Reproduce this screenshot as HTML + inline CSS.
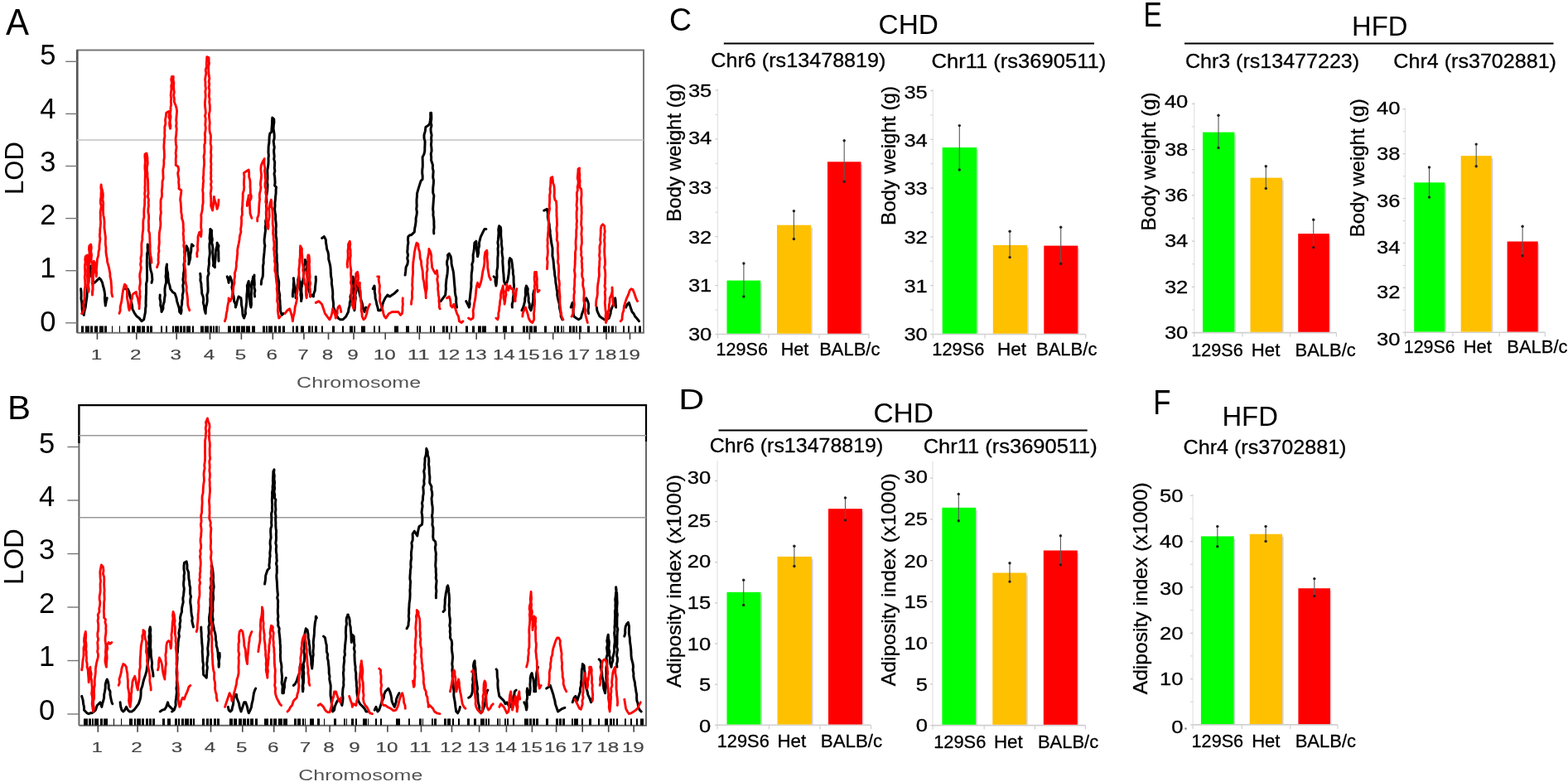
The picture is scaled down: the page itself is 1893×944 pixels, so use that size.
<!DOCTYPE html>
<html><head><meta charset="utf-8"><style>
html,body{margin:0;padding:0;background:#fff;}
svg{display:block;}
text{font-family:'Liberation Sans', Arial, sans-serif;}
text.b{stroke:#000;stroke-width:0.3px;}
</style></head><body>
<svg width="1893" height="944" viewBox="0 0 1893 944">
<rect width="1893" height="944" fill="#fff"/>

<text x="6.9" y="41.6" font-size="44" textLength="28.0" lengthAdjust="spacingAndGlyphs" fill="#000">A</text>
<text x="8.9" y="505.8" font-size="40.5" textLength="28.0" lengthAdjust="spacingAndGlyphs" fill="#000">B</text>
<text x="808.0" y="37.0" font-size="39.5" textLength="27.0" lengthAdjust="spacingAndGlyphs" fill="#000">C</text>
<text x="819.2" y="493.7" font-size="34.5" textLength="31.0" lengthAdjust="spacingAndGlyphs" fill="#000">D</text>
<text x="1380.4" y="31.8" font-size="43" textLength="22.3" lengthAdjust="spacingAndGlyphs" fill="#000">E</text>
<text x="1392.3" y="499.8" font-size="42" textLength="21.2" lengthAdjust="spacingAndGlyphs" fill="#000">F</text>
<text x="1060.6" y="41.2" font-size="33" textLength="72.4" lengthAdjust="spacingAndGlyphs" fill="#000">CHD</text>
<text x="1632.0" y="43.2" font-size="33" textLength="67.3" lengthAdjust="spacingAndGlyphs" fill="#000">HFD</text>
<text x="1054.4" y="510.4" font-size="33" textLength="72.6" lengthAdjust="spacingAndGlyphs" fill="#000">CHD</text>
<text x="1475.4" y="514.4" font-size="33" textLength="67.5" lengthAdjust="spacingAndGlyphs" fill="#000">HFD</text>
<line x1="873.8" y1="52.6" x2="1321.0" y2="52.6" stroke="#000" stroke-width="2"/>
<line x1="1430.0" y1="52.6" x2="1875.5" y2="52.6" stroke="#000" stroke-width="2"/>
<line x1="867.5" y1="519.6" x2="1312.7" y2="519.6" stroke="#000" stroke-width="2"/>
<text x="858.3" y="81.4" font-size="24.5" textLength="211.2" lengthAdjust="spacingAndGlyphs" fill="#000" class="b">Chr6 (rs13478819)</text>
<text x="1124.5" y="81.9" font-size="24.5" textLength="210.7" lengthAdjust="spacingAndGlyphs" fill="#000" class="b">Chr11 (rs3690511)</text>
<text x="1430.9" y="81.8" font-size="24.5" textLength="210.2" lengthAdjust="spacingAndGlyphs" fill="#000" class="b">Chr3 (rs13477223)</text>
<text x="1682.3" y="81.8" font-size="24.5" textLength="196.7" lengthAdjust="spacingAndGlyphs" fill="#000" class="b">Chr4 (rs3702881)</text>
<text x="856.7" y="545.8" font-size="24.5" textLength="209.6" lengthAdjust="spacingAndGlyphs" fill="#000" class="b">Chr6 (rs13478819)</text>
<text x="1114.7" y="546.6" font-size="24.5" textLength="210.1" lengthAdjust="spacingAndGlyphs" fill="#000" class="b">Chr11 (rs3690511)</text>
<text x="1428.5" y="547.5" font-size="24.5" textLength="197.0" lengthAdjust="spacingAndGlyphs" fill="#000" class="b">Chr4 (rs3702881)</text>
<line x1="866.5" y1="107.0" x2="866.5" y2="403.5" stroke="#e3e3e3" stroke-width="1.2"/>
<line x1="866.5" y1="403.5" x2="1049.0" y2="403.5" stroke="#d0d0d0" stroke-width="1.6"/>
<line x1="863.5" y1="403.5" x2="866.5" y2="403.5" stroke="#c8c8c8" stroke-width="1.2"/>
<text x="859.3" y="411.0" font-size="22.5" text-anchor="end" textLength="28.4" lengthAdjust="spacingAndGlyphs" fill="#000" class="b">30</text>
<line x1="863.5" y1="374.1" x2="866.5" y2="374.1" stroke="#d8d8d8" stroke-width="1.2"/>
<line x1="863.5" y1="344.6" x2="866.5" y2="344.6" stroke="#c8c8c8" stroke-width="1.2"/>
<text x="859.3" y="352.0" font-size="22.5" text-anchor="end" textLength="28.4" lengthAdjust="spacingAndGlyphs" fill="#000" class="b">31</text>
<line x1="863.5" y1="315.2" x2="866.5" y2="315.2" stroke="#d8d8d8" stroke-width="1.2"/>
<line x1="863.5" y1="285.7" x2="866.5" y2="285.7" stroke="#c8c8c8" stroke-width="1.2"/>
<text x="859.3" y="293.6" font-size="22.5" text-anchor="end" textLength="28.4" lengthAdjust="spacingAndGlyphs" fill="#000" class="b">32</text>
<line x1="863.5" y1="256.2" x2="866.5" y2="256.2" stroke="#d8d8d8" stroke-width="1.2"/>
<line x1="863.5" y1="226.8" x2="866.5" y2="226.8" stroke="#c8c8c8" stroke-width="1.2"/>
<text x="859.3" y="234.3" font-size="22.5" text-anchor="end" textLength="28.4" lengthAdjust="spacingAndGlyphs" fill="#000" class="b">33</text>
<line x1="863.5" y1="197.4" x2="866.5" y2="197.4" stroke="#d8d8d8" stroke-width="1.2"/>
<line x1="863.5" y1="167.9" x2="866.5" y2="167.9" stroke="#c8c8c8" stroke-width="1.2"/>
<text x="859.3" y="174.2" font-size="22.5" text-anchor="end" textLength="28.4" lengthAdjust="spacingAndGlyphs" fill="#000" class="b">34</text>
<line x1="863.5" y1="138.5" x2="866.5" y2="138.5" stroke="#d8d8d8" stroke-width="1.2"/>
<line x1="863.5" y1="109.0" x2="866.5" y2="109.0" stroke="#c8c8c8" stroke-width="1.2"/>
<text x="859.3" y="117.2" font-size="22.5" text-anchor="end" textLength="28.4" lengthAdjust="spacingAndGlyphs" fill="#000" class="b">35</text>
<line x1="866.5" y1="403.5" x2="866.5" y2="408.5" stroke="#d0d0d0" stroke-width="1.2"/>
<line x1="928.1" y1="403.5" x2="928.1" y2="408.5" stroke="#d0d0d0" stroke-width="1.2"/>
<line x1="989.1" y1="403.5" x2="989.1" y2="408.5" stroke="#d0d0d0" stroke-width="1.2"/>
<line x1="1049.0" y1="403.5" x2="1049.0" y2="408.5" stroke="#d0d0d0" stroke-width="1.2"/>
<rect x="918.2" y="341.6" width="1.6" height="61.1" fill="#d6cdd8"/>
<rect x="877.5" y="338.6" width="40.7" height="64.1" fill="#00ff00"/>
<rect x="979.2" y="274.7" width="1.6" height="128.0" fill="#d6cdd8"/>
<rect x="938.0" y="271.7" width="41.2" height="131.0" fill="#ffc000"/>
<rect x="1039.5" y="198.3" width="1.6" height="204.4" fill="#d6cdd8"/>
<rect x="999.0" y="195.3" width="40.5" height="207.4" fill="#ff0000"/>
<line x1="897.9" y1="318.0" x2="897.9" y2="358.0" stroke="#5a5a5a" stroke-width="1.1"/>
<circle cx="897.9" cy="318.0" r="1.7" fill="#222"/>
<circle cx="897.9" cy="358.0" r="1.7" fill="#222"/>
<line x1="958.4" y1="254.7" x2="958.4" y2="288.5" stroke="#5a5a5a" stroke-width="1.1"/>
<circle cx="958.4" cy="254.7" r="1.7" fill="#222"/>
<circle cx="958.4" cy="288.5" r="1.7" fill="#222"/>
<line x1="1019.2" y1="169.8" x2="1019.2" y2="219.2" stroke="#5a5a5a" stroke-width="1.1"/>
<circle cx="1019.2" cy="169.8" r="1.7" fill="#222"/>
<circle cx="1019.2" cy="219.2" r="1.7" fill="#222"/>
<text x="864.6" y="428.8" font-size="22.5" textLength="62.3" lengthAdjust="spacingAndGlyphs" fill="#000" class="b">129S6</text>
<text x="942.7" y="428.8" font-size="22.5" textLength="33.7" lengthAdjust="spacingAndGlyphs" fill="#000" class="b">Het</text>
<text x="989.2" y="428.8" font-size="22.5" textLength="73.2" lengthAdjust="spacingAndGlyphs" fill="#000" class="b">BALB/c</text>
<text transform="translate(822.0,184.3) rotate(-90)" x="0" y="0" font-size="24" text-anchor="middle" textLength="167.0" lengthAdjust="spacingAndGlyphs" fill="#000" class="b">Body weight (g)</text>
<line x1="1126.3" y1="107.5" x2="1126.3" y2="403.5" stroke="#e3e3e3" stroke-width="1.2"/>
<line x1="1126.3" y1="403.5" x2="1310.7" y2="403.5" stroke="#d0d0d0" stroke-width="1.6"/>
<line x1="1123.3" y1="403.5" x2="1126.3" y2="403.5" stroke="#c8c8c8" stroke-width="1.2"/>
<text x="1119.8" y="411.1" font-size="22.5" text-anchor="end" textLength="28.4" lengthAdjust="spacingAndGlyphs" fill="#000" class="b">30</text>
<line x1="1123.3" y1="374.1" x2="1126.3" y2="374.1" stroke="#d8d8d8" stroke-width="1.2"/>
<line x1="1123.3" y1="344.7" x2="1126.3" y2="344.7" stroke="#c8c8c8" stroke-width="1.2"/>
<text x="1119.8" y="352.6" font-size="22.5" text-anchor="end" textLength="28.4" lengthAdjust="spacingAndGlyphs" fill="#000" class="b">31</text>
<line x1="1123.3" y1="315.3" x2="1126.3" y2="315.3" stroke="#d8d8d8" stroke-width="1.2"/>
<line x1="1123.3" y1="285.9" x2="1126.3" y2="285.9" stroke="#c8c8c8" stroke-width="1.2"/>
<text x="1119.8" y="294.1" font-size="22.5" text-anchor="end" textLength="28.4" lengthAdjust="spacingAndGlyphs" fill="#000" class="b">32</text>
<line x1="1123.3" y1="256.5" x2="1126.3" y2="256.5" stroke="#d8d8d8" stroke-width="1.2"/>
<line x1="1123.3" y1="227.1" x2="1126.3" y2="227.1" stroke="#c8c8c8" stroke-width="1.2"/>
<text x="1119.8" y="235.1" font-size="22.5" text-anchor="end" textLength="28.4" lengthAdjust="spacingAndGlyphs" fill="#000" class="b">33</text>
<line x1="1123.3" y1="197.7" x2="1126.3" y2="197.7" stroke="#d8d8d8" stroke-width="1.2"/>
<line x1="1123.3" y1="168.3" x2="1126.3" y2="168.3" stroke="#c8c8c8" stroke-width="1.2"/>
<text x="1119.8" y="177.1" font-size="22.5" text-anchor="end" textLength="28.4" lengthAdjust="spacingAndGlyphs" fill="#000" class="b">34</text>
<line x1="1123.3" y1="138.9" x2="1126.3" y2="138.9" stroke="#d8d8d8" stroke-width="1.2"/>
<line x1="1123.3" y1="109.5" x2="1126.3" y2="109.5" stroke="#c8c8c8" stroke-width="1.2"/>
<text x="1119.8" y="119.0" font-size="22.5" text-anchor="end" textLength="28.4" lengthAdjust="spacingAndGlyphs" fill="#000" class="b">35</text>
<line x1="1126.3" y1="403.5" x2="1126.3" y2="408.5" stroke="#d0d0d0" stroke-width="1.2"/>
<line x1="1189.0" y1="403.5" x2="1189.0" y2="408.5" stroke="#d0d0d0" stroke-width="1.2"/>
<line x1="1250.2" y1="403.5" x2="1250.2" y2="408.5" stroke="#d0d0d0" stroke-width="1.2"/>
<line x1="1310.7" y1="403.5" x2="1310.7" y2="408.5" stroke="#d0d0d0" stroke-width="1.2"/>
<rect x="1179.2" y="181.0" width="1.6" height="221.7" fill="#d6cdd8"/>
<rect x="1137.7" y="178.0" width="41.5" height="224.7" fill="#00ff00"/>
<rect x="1240.2" y="298.9" width="1.6" height="103.8" fill="#d6cdd8"/>
<rect x="1198.8" y="295.9" width="41.4" height="106.8" fill="#ffc000"/>
<rect x="1301.3" y="299.6" width="1.6" height="103.1" fill="#d6cdd8"/>
<rect x="1260.3" y="296.6" width="41.0" height="106.1" fill="#ff0000"/>
<line x1="1158.3" y1="151.6" x2="1158.3" y2="205.0" stroke="#5a5a5a" stroke-width="1.1"/>
<circle cx="1158.3" cy="151.6" r="1.7" fill="#222"/>
<circle cx="1158.3" cy="205.0" r="1.7" fill="#222"/>
<line x1="1219.1" y1="279.3" x2="1219.1" y2="310.6" stroke="#5a5a5a" stroke-width="1.1"/>
<circle cx="1219.1" cy="279.3" r="1.7" fill="#222"/>
<circle cx="1219.1" cy="310.6" r="1.7" fill="#222"/>
<line x1="1280.7" y1="274.3" x2="1280.7" y2="318.3" stroke="#5a5a5a" stroke-width="1.1"/>
<circle cx="1280.7" cy="274.3" r="1.7" fill="#222"/>
<circle cx="1280.7" cy="318.3" r="1.7" fill="#222"/>
<text x="1125.3" y="429.0" font-size="22.5" textLength="63.0" lengthAdjust="spacingAndGlyphs" fill="#000" class="b">129S6</text>
<text x="1204.0" y="429.0" font-size="22.5" textLength="35.0" lengthAdjust="spacingAndGlyphs" fill="#000" class="b">Het</text>
<text x="1251.0" y="429.0" font-size="22.5" textLength="73.4" lengthAdjust="spacingAndGlyphs" fill="#000" class="b">BALB/c</text>
<text transform="translate(1081.0,188.0) rotate(-90)" x="0" y="0" font-size="24" text-anchor="middle" textLength="168.0" lengthAdjust="spacingAndGlyphs" fill="#000" class="b">Body weight (g)</text>
<line x1="1441.8" y1="123.3" x2="1441.8" y2="401.6" stroke="#e3e3e3" stroke-width="1.2"/>
<line x1="1441.8" y1="401.6" x2="1613.4" y2="401.6" stroke="#d0d0d0" stroke-width="1.6"/>
<line x1="1438.8" y1="401.6" x2="1441.8" y2="401.6" stroke="#c8c8c8" stroke-width="1.2"/>
<text x="1434.3" y="409.2" font-size="22.5" text-anchor="end" textLength="28.4" lengthAdjust="spacingAndGlyphs" fill="#000" class="b">30</text>
<line x1="1438.8" y1="374.0" x2="1441.8" y2="374.0" stroke="#d8d8d8" stroke-width="1.2"/>
<line x1="1438.8" y1="346.3" x2="1441.8" y2="346.3" stroke="#c8c8c8" stroke-width="1.2"/>
<text x="1434.3" y="353.8" font-size="22.5" text-anchor="end" textLength="28.4" lengthAdjust="spacingAndGlyphs" fill="#000" class="b">32</text>
<line x1="1438.8" y1="318.7" x2="1441.8" y2="318.7" stroke="#d8d8d8" stroke-width="1.2"/>
<line x1="1438.8" y1="291.1" x2="1441.8" y2="291.1" stroke="#c8c8c8" stroke-width="1.2"/>
<text x="1434.3" y="298.3" font-size="22.5" text-anchor="end" textLength="28.4" lengthAdjust="spacingAndGlyphs" fill="#000" class="b">34</text>
<line x1="1438.8" y1="263.5" x2="1441.8" y2="263.5" stroke="#d8d8d8" stroke-width="1.2"/>
<line x1="1438.8" y1="235.8" x2="1441.8" y2="235.8" stroke="#c8c8c8" stroke-width="1.2"/>
<text x="1434.3" y="243.2" font-size="22.5" text-anchor="end" textLength="28.4" lengthAdjust="spacingAndGlyphs" fill="#000" class="b">36</text>
<line x1="1438.8" y1="208.2" x2="1441.8" y2="208.2" stroke="#d8d8d8" stroke-width="1.2"/>
<line x1="1438.8" y1="180.6" x2="1441.8" y2="180.6" stroke="#c8c8c8" stroke-width="1.2"/>
<text x="1434.3" y="188.1" font-size="22.5" text-anchor="end" textLength="28.4" lengthAdjust="spacingAndGlyphs" fill="#000" class="b">38</text>
<line x1="1438.8" y1="152.9" x2="1441.8" y2="152.9" stroke="#d8d8d8" stroke-width="1.2"/>
<line x1="1438.8" y1="125.3" x2="1441.8" y2="125.3" stroke="#c8c8c8" stroke-width="1.2"/>
<text x="1434.3" y="129.9" font-size="22.5" text-anchor="end" textLength="28.4" lengthAdjust="spacingAndGlyphs" fill="#000" class="b">40</text>
<line x1="1441.8" y1="401.6" x2="1441.8" y2="406.6" stroke="#d0d0d0" stroke-width="1.2"/>
<line x1="1500.0" y1="401.6" x2="1500.0" y2="406.6" stroke="#d0d0d0" stroke-width="1.2"/>
<line x1="1557.6" y1="401.6" x2="1557.6" y2="406.6" stroke="#d0d0d0" stroke-width="1.2"/>
<line x1="1613.4" y1="401.6" x2="1613.4" y2="406.6" stroke="#d0d0d0" stroke-width="1.2"/>
<rect x="1490.4" y="162.6" width="1.6" height="238.2" fill="#d6cdd8"/>
<rect x="1452.0" y="159.6" width="38.4" height="241.2" fill="#00ff00"/>
<rect x="1548.0" y="217.6" width="1.6" height="183.2" fill="#d6cdd8"/>
<rect x="1509.5" y="214.6" width="38.5" height="186.2" fill="#ffc000"/>
<rect x="1604.8" y="285.1" width="1.6" height="115.7" fill="#d6cdd8"/>
<rect x="1567.2" y="282.1" width="37.6" height="118.7" fill="#ff0000"/>
<line x1="1471.0" y1="139.3" x2="1471.0" y2="178.4" stroke="#5a5a5a" stroke-width="1.1"/>
<circle cx="1471.0" cy="139.3" r="1.7" fill="#222"/>
<circle cx="1471.0" cy="178.4" r="1.7" fill="#222"/>
<line x1="1528.3" y1="200.8" x2="1528.3" y2="227.5" stroke="#5a5a5a" stroke-width="1.1"/>
<circle cx="1528.3" cy="200.8" r="1.7" fill="#222"/>
<circle cx="1528.3" cy="227.5" r="1.7" fill="#222"/>
<line x1="1585.7" y1="265.3" x2="1585.7" y2="298.6" stroke="#5a5a5a" stroke-width="1.1"/>
<circle cx="1585.7" cy="265.3" r="1.7" fill="#222"/>
<circle cx="1585.7" cy="298.6" r="1.7" fill="#222"/>
<text x="1438.3" y="430.0" font-size="22.5" textLength="62.5" lengthAdjust="spacingAndGlyphs" fill="#000" class="b">129S6</text>
<text x="1510.8" y="430.0" font-size="22.5" textLength="34.5" lengthAdjust="spacingAndGlyphs" fill="#000" class="b">Het</text>
<text x="1563.6" y="430.0" font-size="22.5" textLength="73.2" lengthAdjust="spacingAndGlyphs" fill="#000" class="b">BALB/c</text>
<text transform="translate(1395.4,194.9) rotate(-90)" x="0" y="0" font-size="24" text-anchor="middle" textLength="167.0" lengthAdjust="spacingAndGlyphs" fill="#000" class="b">Body weight (g)</text>
<line x1="1696.5" y1="129.8" x2="1696.5" y2="401.3" stroke="#e3e3e3" stroke-width="1.2"/>
<line x1="1696.5" y1="401.3" x2="1865.3" y2="401.3" stroke="#d0d0d0" stroke-width="1.6"/>
<line x1="1693.5" y1="401.3" x2="1696.5" y2="401.3" stroke="#c8c8c8" stroke-width="1.2"/>
<text x="1690.5" y="417.3" font-size="22.5" text-anchor="end" textLength="28.4" lengthAdjust="spacingAndGlyphs" fill="#000" class="b">30</text>
<line x1="1693.5" y1="374.4" x2="1696.5" y2="374.4" stroke="#d8d8d8" stroke-width="1.2"/>
<line x1="1693.5" y1="347.4" x2="1696.5" y2="347.4" stroke="#c8c8c8" stroke-width="1.2"/>
<text x="1690.5" y="360.1" font-size="22.5" text-anchor="end" textLength="28.4" lengthAdjust="spacingAndGlyphs" fill="#000" class="b">32</text>
<line x1="1693.5" y1="320.5" x2="1696.5" y2="320.5" stroke="#d8d8d8" stroke-width="1.2"/>
<line x1="1693.5" y1="293.5" x2="1696.5" y2="293.5" stroke="#c8c8c8" stroke-width="1.2"/>
<text x="1690.5" y="305.5" font-size="22.5" text-anchor="end" textLength="28.4" lengthAdjust="spacingAndGlyphs" fill="#000" class="b">34</text>
<line x1="1693.5" y1="266.6" x2="1696.5" y2="266.6" stroke="#d8d8d8" stroke-width="1.2"/>
<line x1="1693.5" y1="239.6" x2="1696.5" y2="239.6" stroke="#c8c8c8" stroke-width="1.2"/>
<text x="1690.5" y="249.6" font-size="22.5" text-anchor="end" textLength="28.4" lengthAdjust="spacingAndGlyphs" fill="#000" class="b">36</text>
<line x1="1693.5" y1="212.7" x2="1696.5" y2="212.7" stroke="#d8d8d8" stroke-width="1.2"/>
<line x1="1693.5" y1="185.7" x2="1696.5" y2="185.7" stroke="#c8c8c8" stroke-width="1.2"/>
<text x="1690.5" y="193.2" font-size="22.5" text-anchor="end" textLength="28.4" lengthAdjust="spacingAndGlyphs" fill="#000" class="b">38</text>
<line x1="1693.5" y1="158.8" x2="1696.5" y2="158.8" stroke="#d8d8d8" stroke-width="1.2"/>
<line x1="1693.5" y1="131.8" x2="1696.5" y2="131.8" stroke="#c8c8c8" stroke-width="1.2"/>
<text x="1690.5" y="138.3" font-size="22.5" text-anchor="end" textLength="28.4" lengthAdjust="spacingAndGlyphs" fill="#000" class="b">40</text>
<line x1="1696.5" y1="401.3" x2="1696.5" y2="406.3" stroke="#d0d0d0" stroke-width="1.2"/>
<line x1="1754.0" y1="401.3" x2="1754.0" y2="406.3" stroke="#d0d0d0" stroke-width="1.2"/>
<line x1="1810.2" y1="401.3" x2="1810.2" y2="406.3" stroke="#d0d0d0" stroke-width="1.2"/>
<line x1="1865.3" y1="401.3" x2="1865.3" y2="406.3" stroke="#d0d0d0" stroke-width="1.2"/>
<rect x="1744.3" y="223.3" width="1.6" height="177.2" fill="#d6cdd8"/>
<rect x="1707.2" y="220.3" width="37.1" height="180.2" fill="#00ff00"/>
<rect x="1800.8" y="191.1" width="1.6" height="209.4" fill="#d6cdd8"/>
<rect x="1763.7" y="188.1" width="37.1" height="212.4" fill="#ffc000"/>
<rect x="1856.7" y="294.5" width="1.6" height="106.0" fill="#d6cdd8"/>
<rect x="1819.6" y="291.5" width="37.1" height="109.0" fill="#ff0000"/>
<line x1="1725.5" y1="202.0" x2="1725.5" y2="238.1" stroke="#5a5a5a" stroke-width="1.1"/>
<circle cx="1725.5" cy="202.0" r="1.7" fill="#222"/>
<circle cx="1725.5" cy="238.1" r="1.7" fill="#222"/>
<line x1="1782.2" y1="174.1" x2="1782.2" y2="200.8" stroke="#5a5a5a" stroke-width="1.1"/>
<circle cx="1782.2" cy="174.1" r="1.7" fill="#222"/>
<circle cx="1782.2" cy="200.8" r="1.7" fill="#222"/>
<line x1="1838.1" y1="273.2" x2="1838.1" y2="308.8" stroke="#5a5a5a" stroke-width="1.1"/>
<circle cx="1838.1" cy="273.2" r="1.7" fill="#222"/>
<circle cx="1838.1" cy="308.8" r="1.7" fill="#222"/>
<text x="1694.8" y="426.2" font-size="22.5" textLength="61.7" lengthAdjust="spacingAndGlyphs" fill="#000" class="b">129S6</text>
<text x="1766.7" y="426.2" font-size="22.5" textLength="34.3" lengthAdjust="spacingAndGlyphs" fill="#000" class="b">Het</text>
<text x="1819.3" y="426.2" font-size="22.5" textLength="73.2" lengthAdjust="spacingAndGlyphs" fill="#000" class="b">BALB/c</text>
<text transform="translate(1646.5,202.8) rotate(-90)" x="0" y="0" font-size="24" text-anchor="middle" textLength="167.0" lengthAdjust="spacingAndGlyphs" fill="#000" class="b">Body weight (g)</text>
<line x1="866.0" y1="556.0" x2="866.0" y2="875.3" stroke="#e3e3e3" stroke-width="1.2"/>
<line x1="866.0" y1="875.3" x2="1051.5" y2="875.3" stroke="#d0d0d0" stroke-width="1.6"/>
<line x1="863.0" y1="875.3" x2="866.0" y2="875.3" stroke="#c8c8c8" stroke-width="1.2"/>
<text x="858.2" y="883.9" font-size="22.5" text-anchor="end" textLength="14.2" lengthAdjust="spacingAndGlyphs" fill="#000" class="b">0</text>
<line x1="863.0" y1="826.2" x2="866.0" y2="826.2" stroke="#c8c8c8" stroke-width="1.2"/>
<text x="858.2" y="833.5" font-size="22.5" text-anchor="end" textLength="14.2" lengthAdjust="spacingAndGlyphs" fill="#000" class="b">5</text>
<line x1="863.0" y1="777.0" x2="866.0" y2="777.0" stroke="#c8c8c8" stroke-width="1.2"/>
<text x="858.2" y="785.0" font-size="22.5" text-anchor="end" textLength="28.4" lengthAdjust="spacingAndGlyphs" fill="#000" class="b">10</text>
<line x1="863.0" y1="727.9" x2="866.0" y2="727.9" stroke="#c8c8c8" stroke-width="1.2"/>
<text x="858.2" y="735.3" font-size="22.5" text-anchor="end" textLength="28.4" lengthAdjust="spacingAndGlyphs" fill="#000" class="b">15</text>
<line x1="863.0" y1="678.8" x2="866.0" y2="678.8" stroke="#c8c8c8" stroke-width="1.2"/>
<text x="858.2" y="685.3" font-size="22.5" text-anchor="end" textLength="28.4" lengthAdjust="spacingAndGlyphs" fill="#000" class="b">20</text>
<line x1="863.0" y1="629.6" x2="866.0" y2="629.6" stroke="#c8c8c8" stroke-width="1.2"/>
<text x="858.2" y="636.3" font-size="22.5" text-anchor="end" textLength="28.4" lengthAdjust="spacingAndGlyphs" fill="#000" class="b">25</text>
<line x1="863.0" y1="580.5" x2="866.0" y2="580.5" stroke="#c8c8c8" stroke-width="1.2"/>
<text x="858.2" y="584.1" font-size="22.5" text-anchor="end" textLength="28.4" lengthAdjust="spacingAndGlyphs" fill="#000" class="b">30</text>
<line x1="866.0" y1="875.3" x2="866.0" y2="880.3" stroke="#d0d0d0" stroke-width="1.2"/>
<line x1="928.5" y1="875.3" x2="928.5" y2="880.3" stroke="#d0d0d0" stroke-width="1.2"/>
<line x1="990.0" y1="875.3" x2="990.0" y2="880.3" stroke="#d0d0d0" stroke-width="1.2"/>
<line x1="1051.5" y1="875.3" x2="1051.5" y2="880.3" stroke="#d0d0d0" stroke-width="1.2"/>
<rect x="918.4" y="717.8" width="1.6" height="156.7" fill="#d6cdd8"/>
<rect x="877.5" y="714.8" width="40.9" height="159.7" fill="#00ff00"/>
<rect x="980.0" y="674.9" width="1.6" height="199.6" fill="#d6cdd8"/>
<rect x="938.5" y="671.9" width="41.5" height="202.6" fill="#ffc000"/>
<rect x="1041.0" y="617.2" width="1.6" height="257.3" fill="#d6cdd8"/>
<rect x="1000.0" y="614.2" width="41.0" height="260.3" fill="#ff0000"/>
<line x1="897.7" y1="700.2" x2="897.7" y2="730.4" stroke="#5a5a5a" stroke-width="1.1"/>
<circle cx="897.7" cy="700.2" r="1.7" fill="#222"/>
<circle cx="897.7" cy="730.4" r="1.7" fill="#222"/>
<line x1="958.9" y1="659.2" x2="958.9" y2="683.5" stroke="#5a5a5a" stroke-width="1.1"/>
<circle cx="958.9" cy="659.2" r="1.7" fill="#222"/>
<circle cx="958.9" cy="683.5" r="1.7" fill="#222"/>
<line x1="1020.5" y1="600.9" x2="1020.5" y2="627.9" stroke="#5a5a5a" stroke-width="1.1"/>
<circle cx="1020.5" cy="600.9" r="1.7" fill="#222"/>
<circle cx="1020.5" cy="627.9" r="1.7" fill="#222"/>
<text x="865.7" y="902.0" font-size="22.5" textLength="63.1" lengthAdjust="spacingAndGlyphs" fill="#000" class="b">129S6</text>
<text x="938.4" y="902.0" font-size="22.5" textLength="34.8" lengthAdjust="spacingAndGlyphs" fill="#000" class="b">Het</text>
<text x="990.8" y="902.0" font-size="22.5" textLength="74.4" lengthAdjust="spacingAndGlyphs" fill="#000" class="b">BALB/c</text>
<text transform="translate(822.0,701.5) rotate(-90)" x="0" y="0" font-size="24" text-anchor="middle" textLength="257.0" lengthAdjust="spacingAndGlyphs" fill="#000" class="b">Adiposity index (x1000)</text>
<line x1="1126.0" y1="557.0" x2="1126.0" y2="875.6" stroke="#e3e3e3" stroke-width="1.2"/>
<line x1="1126.0" y1="875.6" x2="1310.4" y2="875.6" stroke="#d0d0d0" stroke-width="1.6"/>
<line x1="1123.0" y1="875.6" x2="1126.0" y2="875.6" stroke="#c8c8c8" stroke-width="1.2"/>
<text x="1119.9" y="882.6" font-size="22.5" text-anchor="end" textLength="14.2" lengthAdjust="spacingAndGlyphs" fill="#000" class="b">0</text>
<line x1="1123.0" y1="825.9" x2="1126.0" y2="825.9" stroke="#c8c8c8" stroke-width="1.2"/>
<text x="1119.9" y="833.5" font-size="22.5" text-anchor="end" textLength="14.2" lengthAdjust="spacingAndGlyphs" fill="#000" class="b">5</text>
<line x1="1123.0" y1="776.1" x2="1126.0" y2="776.1" stroke="#c8c8c8" stroke-width="1.2"/>
<text x="1119.9" y="784.2" font-size="22.5" text-anchor="end" textLength="28.4" lengthAdjust="spacingAndGlyphs" fill="#000" class="b">10</text>
<line x1="1123.0" y1="726.4" x2="1126.0" y2="726.4" stroke="#c8c8c8" stroke-width="1.2"/>
<text x="1119.9" y="733.9" font-size="22.5" text-anchor="end" textLength="28.4" lengthAdjust="spacingAndGlyphs" fill="#000" class="b">15</text>
<line x1="1123.0" y1="676.6" x2="1126.0" y2="676.6" stroke="#c8c8c8" stroke-width="1.2"/>
<text x="1119.9" y="684.5" font-size="22.5" text-anchor="end" textLength="28.4" lengthAdjust="spacingAndGlyphs" fill="#000" class="b">20</text>
<line x1="1123.0" y1="626.9" x2="1126.0" y2="626.9" stroke="#c8c8c8" stroke-width="1.2"/>
<text x="1119.9" y="633.7" font-size="22.5" text-anchor="end" textLength="28.4" lengthAdjust="spacingAndGlyphs" fill="#000" class="b">25</text>
<line x1="1123.0" y1="577.1" x2="1126.0" y2="577.1" stroke="#c8c8c8" stroke-width="1.2"/>
<text x="1119.9" y="583.1" font-size="22.5" text-anchor="end" textLength="28.4" lengthAdjust="spacingAndGlyphs" fill="#000" class="b">30</text>
<line x1="1126.0" y1="875.6" x2="1126.0" y2="880.6" stroke="#d0d0d0" stroke-width="1.2"/>
<line x1="1188.2" y1="875.6" x2="1188.2" y2="880.6" stroke="#d0d0d0" stroke-width="1.2"/>
<line x1="1249.4" y1="875.6" x2="1249.4" y2="880.6" stroke="#d0d0d0" stroke-width="1.2"/>
<line x1="1310.4" y1="875.6" x2="1310.4" y2="880.6" stroke="#d0d0d0" stroke-width="1.2"/>
<rect x="1178.2" y="615.8" width="1.6" height="259.0" fill="#d6cdd8"/>
<rect x="1137.4" y="612.8" width="40.8" height="262.0" fill="#00ff00"/>
<rect x="1239.1" y="694.5" width="1.6" height="180.3" fill="#d6cdd8"/>
<rect x="1198.3" y="691.5" width="40.8" height="183.3" fill="#ffc000"/>
<rect x="1300.8" y="667.5" width="1.6" height="207.3" fill="#d6cdd8"/>
<rect x="1259.8" y="664.5" width="41.0" height="210.3" fill="#ff0000"/>
<line x1="1157.3" y1="596.4" x2="1157.3" y2="628.7" stroke="#5a5a5a" stroke-width="1.1"/>
<circle cx="1157.3" cy="596.4" r="1.7" fill="#222"/>
<circle cx="1157.3" cy="628.7" r="1.7" fill="#222"/>
<line x1="1219.0" y1="679.8" x2="1219.0" y2="702.1" stroke="#5a5a5a" stroke-width="1.1"/>
<circle cx="1219.0" cy="679.8" r="1.7" fill="#222"/>
<circle cx="1219.0" cy="702.1" r="1.7" fill="#222"/>
<line x1="1280.4" y1="646.7" x2="1280.4" y2="681.7" stroke="#5a5a5a" stroke-width="1.1"/>
<circle cx="1280.4" cy="646.7" r="1.7" fill="#222"/>
<circle cx="1280.4" cy="681.7" r="1.7" fill="#222"/>
<text x="1127.2" y="902.5" font-size="22.5" textLength="63.1" lengthAdjust="spacingAndGlyphs" fill="#000" class="b">129S6</text>
<text x="1199.9" y="902.5" font-size="22.5" textLength="34.8" lengthAdjust="spacingAndGlyphs" fill="#000" class="b">Het</text>
<text x="1252.9" y="902.5" font-size="22.5" textLength="73.3" lengthAdjust="spacingAndGlyphs" fill="#000" class="b">BALB/c</text>
<text transform="translate(1081.0,699.8) rotate(-90)" x="0" y="0" font-size="24" text-anchor="middle" textLength="257.0" lengthAdjust="spacingAndGlyphs" fill="#000" class="b">Adiposity index (x1000)</text>
<line x1="1440.1" y1="596.3" x2="1440.1" y2="874.9" stroke="#e3e3e3" stroke-width="1.2"/>
<line x1="1440.1" y1="874.9" x2="1615.0" y2="874.9" stroke="#d0d0d0" stroke-width="1.6"/>
<line x1="1437.1" y1="874.9" x2="1440.1" y2="874.9" stroke="#c8c8c8" stroke-width="1.2"/>
<text x="1428.4" y="884.6" font-size="22.5" text-anchor="end" textLength="14.2" lengthAdjust="spacingAndGlyphs" fill="#000" class="b">0</text>
<line x1="1437.1" y1="847.2" x2="1440.1" y2="847.2" stroke="#d8d8d8" stroke-width="1.2"/>
<line x1="1437.1" y1="819.6" x2="1440.1" y2="819.6" stroke="#c8c8c8" stroke-width="1.2"/>
<text x="1428.4" y="827.3" font-size="22.5" text-anchor="end" textLength="28.4" lengthAdjust="spacingAndGlyphs" fill="#000" class="b">10</text>
<line x1="1437.1" y1="791.9" x2="1440.1" y2="791.9" stroke="#d8d8d8" stroke-width="1.2"/>
<line x1="1437.1" y1="764.3" x2="1440.1" y2="764.3" stroke="#c8c8c8" stroke-width="1.2"/>
<text x="1428.4" y="772.4" font-size="22.5" text-anchor="end" textLength="28.4" lengthAdjust="spacingAndGlyphs" fill="#000" class="b">20</text>
<line x1="1437.1" y1="736.6" x2="1440.1" y2="736.6" stroke="#d8d8d8" stroke-width="1.2"/>
<line x1="1437.1" y1="708.9" x2="1440.1" y2="708.9" stroke="#c8c8c8" stroke-width="1.2"/>
<text x="1428.4" y="717.8" font-size="22.5" text-anchor="end" textLength="28.4" lengthAdjust="spacingAndGlyphs" fill="#000" class="b">30</text>
<line x1="1437.1" y1="681.3" x2="1440.1" y2="681.3" stroke="#d8d8d8" stroke-width="1.2"/>
<line x1="1437.1" y1="653.6" x2="1440.1" y2="653.6" stroke="#c8c8c8" stroke-width="1.2"/>
<text x="1428.4" y="661.0" font-size="22.5" text-anchor="end" textLength="28.4" lengthAdjust="spacingAndGlyphs" fill="#000" class="b">40</text>
<line x1="1437.1" y1="626.0" x2="1440.1" y2="626.0" stroke="#d8d8d8" stroke-width="1.2"/>
<line x1="1437.1" y1="598.3" x2="1440.1" y2="598.3" stroke="#c8c8c8" stroke-width="1.2"/>
<text x="1428.4" y="605.9" font-size="22.5" text-anchor="end" textLength="28.4" lengthAdjust="spacingAndGlyphs" fill="#000" class="b">50</text>
<line x1="1440.1" y1="874.9" x2="1440.1" y2="879.9" stroke="#d0d0d0" stroke-width="1.2"/>
<line x1="1499.2" y1="874.9" x2="1499.2" y2="879.9" stroke="#d0d0d0" stroke-width="1.2"/>
<line x1="1557.7" y1="874.9" x2="1557.7" y2="879.9" stroke="#d0d0d0" stroke-width="1.2"/>
<line x1="1615.0" y1="874.9" x2="1615.0" y2="879.9" stroke="#d0d0d0" stroke-width="1.2"/>
<rect x="1489.7" y="650.4" width="1.6" height="223.7" fill="#d6cdd8"/>
<rect x="1449.9" y="647.4" width="39.8" height="226.7" fill="#00ff00"/>
<rect x="1548.0" y="647.7" width="1.6" height="226.4" fill="#d6cdd8"/>
<rect x="1508.7" y="644.7" width="39.3" height="229.4" fill="#ffc000"/>
<rect x="1605.9" y="713.2" width="1.6" height="160.9" fill="#d6cdd8"/>
<rect x="1567.4" y="710.2" width="38.5" height="163.9" fill="#ff0000"/>
<line x1="1469.8" y1="635.4" x2="1469.8" y2="659.8" stroke="#5a5a5a" stroke-width="1.1"/>
<circle cx="1469.8" cy="635.4" r="1.7" fill="#222"/>
<circle cx="1469.8" cy="659.8" r="1.7" fill="#222"/>
<line x1="1528.1" y1="635.4" x2="1528.1" y2="653.4" stroke="#5a5a5a" stroke-width="1.1"/>
<circle cx="1528.1" cy="635.4" r="1.7" fill="#222"/>
<circle cx="1528.1" cy="653.4" r="1.7" fill="#222"/>
<line x1="1586.8" y1="698.6" x2="1586.8" y2="719.6" stroke="#5a5a5a" stroke-width="1.1"/>
<circle cx="1586.8" cy="698.6" r="1.7" fill="#222"/>
<circle cx="1586.8" cy="719.6" r="1.7" fill="#222"/>
<text x="1438.6" y="902.0" font-size="22.5" textLength="62.5" lengthAdjust="spacingAndGlyphs" fill="#000" class="b">129S6</text>
<text x="1511.2" y="902.0" font-size="22.5" textLength="34.3" lengthAdjust="spacingAndGlyphs" fill="#000" class="b">Het</text>
<text x="1563.7" y="902.0" font-size="22.5" textLength="73.3" lengthAdjust="spacingAndGlyphs" fill="#000" class="b">BALB/c</text>
<text transform="translate(1385.0,710.3) rotate(-90)" x="0" y="0" font-size="24" text-anchor="middle" textLength="256.0" lengthAdjust="spacingAndGlyphs" fill="#000" class="b">Adiposity index (x1000)</text>
<circle cx="1431.5" cy="879.6" r="1.3" fill="#888"/>
<path d="M93.2,401.8 V60.5 H777.0 V401.8 H93.2" fill="none" stroke="#777" stroke-width="2"/>
<line x1="93.2" y1="60.5" x2="93.2" y2="401.8" stroke="#555" stroke-width="2.6"/>
<line x1="93.2" y1="169.0" x2="777.0" y2="169.0" stroke="#c2c2c2" stroke-width="1.5"/>
<line x1="79.2" y1="389.8" x2="93.2" y2="389.8" stroke="#777" stroke-width="1.4"/>
<text x="67.4" y="399.7" font-size="34.5" text-anchor="end" fill="#000">0</text>
<line x1="79.2" y1="326.7" x2="93.2" y2="326.7" stroke="#777" stroke-width="1.4"/>
<text x="67.4" y="335.4" font-size="34.5" text-anchor="end" fill="#000">1</text>
<line x1="79.2" y1="263.6" x2="93.2" y2="263.6" stroke="#777" stroke-width="1.4"/>
<text x="67.4" y="271.1" font-size="34.5" text-anchor="end" fill="#000">2</text>
<line x1="79.2" y1="200.5" x2="93.2" y2="200.5" stroke="#777" stroke-width="1.4"/>
<text x="67.4" y="206.8" font-size="34.5" text-anchor="end" fill="#000">3</text>
<line x1="79.2" y1="137.4" x2="93.2" y2="137.4" stroke="#777" stroke-width="1.4"/>
<text x="67.4" y="142.5" font-size="34.5" text-anchor="end" fill="#000">4</text>
<line x1="79.2" y1="74.3" x2="93.2" y2="74.3" stroke="#777" stroke-width="1.4"/>
<text x="67.4" y="78.2" font-size="34.5" text-anchor="end" fill="#000">5</text>
<line x1="117.4" y1="401.8" x2="117.4" y2="409.8" stroke="#444" stroke-width="1.6"/>
<text x="116.4" y="433.8" font-size="16.5" text-anchor="middle" textLength="13.5" lengthAdjust="spacingAndGlyphs" fill="#444" stroke="#444" stroke-width="0.15">1</text>
<line x1="164.8" y1="401.8" x2="164.8" y2="409.8" stroke="#444" stroke-width="1.6"/>
<text x="163.8" y="433.8" font-size="16.5" text-anchor="middle" textLength="13.5" lengthAdjust="spacingAndGlyphs" fill="#444" stroke="#444" stroke-width="0.15">2</text>
<line x1="213.2" y1="401.8" x2="213.2" y2="409.8" stroke="#444" stroke-width="1.6"/>
<text x="212.2" y="433.8" font-size="16.5" text-anchor="middle" textLength="13.5" lengthAdjust="spacingAndGlyphs" fill="#444" stroke="#444" stroke-width="0.15">3</text>
<line x1="253.5" y1="401.8" x2="253.5" y2="409.8" stroke="#444" stroke-width="1.6"/>
<text x="252.5" y="433.8" font-size="16.5" text-anchor="middle" textLength="13.5" lengthAdjust="spacingAndGlyphs" fill="#444" stroke="#444" stroke-width="0.15">4</text>
<line x1="291.4" y1="401.8" x2="291.4" y2="409.8" stroke="#444" stroke-width="1.6"/>
<text x="290.4" y="433.8" font-size="16.5" text-anchor="middle" textLength="13.5" lengthAdjust="spacingAndGlyphs" fill="#444" stroke="#444" stroke-width="0.15">5</text>
<line x1="329.3" y1="401.8" x2="329.3" y2="409.8" stroke="#444" stroke-width="1.6"/>
<text x="328.3" y="433.8" font-size="16.5" text-anchor="middle" textLength="13.5" lengthAdjust="spacingAndGlyphs" fill="#444" stroke="#444" stroke-width="0.15">6</text>
<line x1="366.9" y1="401.8" x2="366.9" y2="409.8" stroke="#444" stroke-width="1.6"/>
<text x="365.9" y="433.8" font-size="16.5" text-anchor="middle" textLength="13.5" lengthAdjust="spacingAndGlyphs" fill="#444" stroke="#444" stroke-width="0.15">7</text>
<line x1="396.5" y1="401.8" x2="396.5" y2="409.8" stroke="#444" stroke-width="1.6"/>
<text x="395.5" y="433.8" font-size="16.5" text-anchor="middle" textLength="13.5" lengthAdjust="spacingAndGlyphs" fill="#444" stroke="#444" stroke-width="0.15">8</text>
<line x1="427.0" y1="401.8" x2="427.0" y2="409.8" stroke="#444" stroke-width="1.6"/>
<text x="426.0" y="433.8" font-size="16.5" text-anchor="middle" textLength="13.5" lengthAdjust="spacingAndGlyphs" fill="#444" stroke="#444" stroke-width="0.15">9</text>
<line x1="465.2" y1="401.8" x2="465.2" y2="409.8" stroke="#444" stroke-width="1.6"/>
<text x="464.2" y="433.8" font-size="16.5" text-anchor="middle" textLength="27.0" lengthAdjust="spacingAndGlyphs" fill="#444" stroke="#444" stroke-width="0.15">10</text>
<line x1="506.3" y1="401.8" x2="506.3" y2="409.8" stroke="#444" stroke-width="1.6"/>
<text x="505.3" y="433.8" font-size="16.5" text-anchor="middle" textLength="27.0" lengthAdjust="spacingAndGlyphs" fill="#444" stroke="#444" stroke-width="0.15">11</text>
<line x1="542.7" y1="401.8" x2="542.7" y2="409.8" stroke="#444" stroke-width="1.6"/>
<text x="541.7" y="433.8" font-size="16.5" text-anchor="middle" textLength="27.0" lengthAdjust="spacingAndGlyphs" fill="#444" stroke="#444" stroke-width="0.15">12</text>
<line x1="575.2" y1="401.8" x2="575.2" y2="409.8" stroke="#444" stroke-width="1.6"/>
<text x="574.2" y="433.8" font-size="16.5" text-anchor="middle" textLength="27.0" lengthAdjust="spacingAndGlyphs" fill="#444" stroke="#444" stroke-width="0.15">13</text>
<line x1="609.3" y1="401.8" x2="609.3" y2="409.8" stroke="#444" stroke-width="1.6"/>
<text x="608.3" y="433.8" font-size="16.5" text-anchor="middle" textLength="27.0" lengthAdjust="spacingAndGlyphs" fill="#444" stroke="#444" stroke-width="0.15">14</text>
<line x1="639.3" y1="401.8" x2="639.3" y2="409.8" stroke="#444" stroke-width="1.6"/>
<text x="638.3" y="433.8" font-size="16.5" text-anchor="middle" textLength="27.0" lengthAdjust="spacingAndGlyphs" fill="#444" stroke="#444" stroke-width="0.15">15</text>
<line x1="667.7" y1="401.8" x2="667.7" y2="409.8" stroke="#444" stroke-width="1.6"/>
<text x="666.7" y="433.8" font-size="16.5" text-anchor="middle" textLength="27.0" lengthAdjust="spacingAndGlyphs" fill="#444" stroke="#444" stroke-width="0.15">16</text>
<line x1="699.8" y1="401.8" x2="699.8" y2="409.8" stroke="#444" stroke-width="1.6"/>
<text x="698.8" y="433.8" font-size="16.5" text-anchor="middle" textLength="27.0" lengthAdjust="spacingAndGlyphs" fill="#444" stroke="#444" stroke-width="0.15">17</text>
<line x1="732.0" y1="401.8" x2="732.0" y2="409.8" stroke="#444" stroke-width="1.6"/>
<text x="731.0" y="433.8" font-size="16.5" text-anchor="middle" textLength="27.0" lengthAdjust="spacingAndGlyphs" fill="#444" stroke="#444" stroke-width="0.15">18</text>
<line x1="760.5" y1="401.8" x2="760.5" y2="409.8" stroke="#444" stroke-width="1.6"/>
<text x="759.5" y="433.8" font-size="16.5" text-anchor="middle" textLength="27.0" lengthAdjust="spacingAndGlyphs" fill="#444" stroke="#444" stroke-width="0.15">19</text>
<text x="358.1" y="467.6" font-size="18" textLength="150.0" lengthAdjust="spacingAndGlyphs" fill="#555">Chromosome</text>
<text transform="translate(27.5,203.0) rotate(-90)" x="0" y="0" font-size="31" text-anchor="middle" fill="#000">LOD</text>
<path d="M95.4,875.8 V489.1 H780.0 V875.8 H95.4" fill="none" stroke="#666" stroke-width="2"/>
<path d="M95.4,535.1 V489.1 H780.0 V533.1" fill="none" stroke="#000" stroke-width="2.2"/>
<line x1="95.4" y1="525.7" x2="780.0" y2="525.7" stroke="#999" stroke-width="1.5"/>
<line x1="95.4" y1="624.8" x2="780.0" y2="624.8" stroke="#999" stroke-width="1.5"/>
<line x1="81.4" y1="862.0" x2="95.4" y2="862.0" stroke="#777" stroke-width="1.4"/>
<text x="66.3" y="868.6" font-size="34.5" text-anchor="end" fill="#000">0</text>
<line x1="81.4" y1="797.5" x2="95.4" y2="797.5" stroke="#777" stroke-width="1.4"/>
<text x="66.3" y="804.2" font-size="34.5" text-anchor="end" fill="#000">1</text>
<line x1="81.4" y1="733.0" x2="95.4" y2="733.0" stroke="#777" stroke-width="1.4"/>
<text x="66.3" y="739.8" font-size="34.5" text-anchor="end" fill="#000">2</text>
<line x1="81.4" y1="668.5" x2="95.4" y2="668.5" stroke="#777" stroke-width="1.4"/>
<text x="66.3" y="675.4" font-size="34.5" text-anchor="end" fill="#000">3</text>
<line x1="81.4" y1="604.0" x2="95.4" y2="604.0" stroke="#777" stroke-width="1.4"/>
<text x="66.3" y="611.0" font-size="34.5" text-anchor="end" fill="#000">4</text>
<line x1="81.4" y1="539.5" x2="95.4" y2="539.5" stroke="#777" stroke-width="1.4"/>
<text x="66.3" y="546.6" font-size="34.5" text-anchor="end" fill="#000">5</text>
<line x1="118.3" y1="875.8" x2="118.3" y2="883.8" stroke="#444" stroke-width="1.6"/>
<text x="117.3" y="908.0" font-size="16.5" text-anchor="middle" textLength="13.5" lengthAdjust="spacingAndGlyphs" fill="#444" stroke="#444" stroke-width="0.15">1</text>
<line x1="166.1" y1="875.8" x2="166.1" y2="883.8" stroke="#444" stroke-width="1.6"/>
<text x="165.1" y="908.0" font-size="16.5" text-anchor="middle" textLength="13.5" lengthAdjust="spacingAndGlyphs" fill="#444" stroke="#444" stroke-width="0.15">2</text>
<line x1="214.5" y1="875.8" x2="214.5" y2="883.8" stroke="#444" stroke-width="1.6"/>
<text x="213.5" y="908.0" font-size="16.5" text-anchor="middle" textLength="13.5" lengthAdjust="spacingAndGlyphs" fill="#444" stroke="#444" stroke-width="0.15">3</text>
<line x1="254.5" y1="875.8" x2="254.5" y2="883.8" stroke="#444" stroke-width="1.6"/>
<text x="253.5" y="908.0" font-size="16.5" text-anchor="middle" textLength="13.5" lengthAdjust="spacingAndGlyphs" fill="#444" stroke="#444" stroke-width="0.15">4</text>
<line x1="292.8" y1="875.8" x2="292.8" y2="883.8" stroke="#444" stroke-width="1.6"/>
<text x="291.8" y="908.0" font-size="16.5" text-anchor="middle" textLength="13.5" lengthAdjust="spacingAndGlyphs" fill="#444" stroke="#444" stroke-width="0.15">5</text>
<line x1="330.7" y1="875.8" x2="330.7" y2="883.8" stroke="#444" stroke-width="1.6"/>
<text x="329.7" y="908.0" font-size="16.5" text-anchor="middle" textLength="13.5" lengthAdjust="spacingAndGlyphs" fill="#444" stroke="#444" stroke-width="0.15">6</text>
<line x1="369.5" y1="875.8" x2="369.5" y2="883.8" stroke="#444" stroke-width="1.6"/>
<text x="368.5" y="908.0" font-size="16.5" text-anchor="middle" textLength="13.5" lengthAdjust="spacingAndGlyphs" fill="#444" stroke="#444" stroke-width="0.15">7</text>
<line x1="398.1" y1="875.8" x2="398.1" y2="883.8" stroke="#444" stroke-width="1.6"/>
<text x="397.1" y="908.0" font-size="16.5" text-anchor="middle" textLength="13.5" lengthAdjust="spacingAndGlyphs" fill="#444" stroke="#444" stroke-width="0.15">8</text>
<line x1="429.1" y1="875.8" x2="429.1" y2="883.8" stroke="#444" stroke-width="1.6"/>
<text x="428.1" y="908.0" font-size="16.5" text-anchor="middle" textLength="13.5" lengthAdjust="spacingAndGlyphs" fill="#444" stroke="#444" stroke-width="0.15">9</text>
<line x1="467.9" y1="875.8" x2="467.9" y2="883.8" stroke="#444" stroke-width="1.6"/>
<text x="466.9" y="908.0" font-size="16.5" text-anchor="middle" textLength="27.0" lengthAdjust="spacingAndGlyphs" fill="#444" stroke="#444" stroke-width="0.15">10</text>
<line x1="508.5" y1="875.8" x2="508.5" y2="883.8" stroke="#444" stroke-width="1.6"/>
<text x="507.5" y="908.0" font-size="16.5" text-anchor="middle" textLength="27.0" lengthAdjust="spacingAndGlyphs" fill="#444" stroke="#444" stroke-width="0.15">11</text>
<line x1="545.5" y1="875.8" x2="545.5" y2="883.8" stroke="#444" stroke-width="1.6"/>
<text x="544.5" y="908.0" font-size="16.5" text-anchor="middle" textLength="27.0" lengthAdjust="spacingAndGlyphs" fill="#444" stroke="#444" stroke-width="0.15">12</text>
<line x1="578.6" y1="875.8" x2="578.6" y2="883.8" stroke="#444" stroke-width="1.6"/>
<text x="577.6" y="908.0" font-size="16.5" text-anchor="middle" textLength="27.0" lengthAdjust="spacingAndGlyphs" fill="#444" stroke="#444" stroke-width="0.15">13</text>
<line x1="611.4" y1="875.8" x2="611.4" y2="883.8" stroke="#444" stroke-width="1.6"/>
<text x="610.4" y="908.0" font-size="16.5" text-anchor="middle" textLength="27.0" lengthAdjust="spacingAndGlyphs" fill="#444" stroke="#444" stroke-width="0.15">14</text>
<line x1="642.4" y1="875.8" x2="642.4" y2="883.8" stroke="#444" stroke-width="1.6"/>
<text x="641.4" y="908.0" font-size="16.5" text-anchor="middle" textLength="27.0" lengthAdjust="spacingAndGlyphs" fill="#444" stroke="#444" stroke-width="0.15">15</text>
<line x1="671.6" y1="875.8" x2="671.6" y2="883.8" stroke="#444" stroke-width="1.6"/>
<text x="670.6" y="908.0" font-size="16.5" text-anchor="middle" textLength="27.0" lengthAdjust="spacingAndGlyphs" fill="#444" stroke="#444" stroke-width="0.15">16</text>
<line x1="703.2" y1="875.8" x2="703.2" y2="883.8" stroke="#444" stroke-width="1.6"/>
<text x="702.2" y="908.0" font-size="16.5" text-anchor="middle" textLength="27.0" lengthAdjust="spacingAndGlyphs" fill="#444" stroke="#444" stroke-width="0.15">17</text>
<line x1="734.7" y1="875.8" x2="734.7" y2="883.8" stroke="#444" stroke-width="1.6"/>
<text x="733.7" y="908.0" font-size="16.5" text-anchor="middle" textLength="27.0" lengthAdjust="spacingAndGlyphs" fill="#444" stroke="#444" stroke-width="0.15">18</text>
<line x1="765.2" y1="875.8" x2="765.2" y2="883.8" stroke="#444" stroke-width="1.6"/>
<text x="764.2" y="908.0" font-size="16.5" text-anchor="middle" textLength="27.0" lengthAdjust="spacingAndGlyphs" fill="#444" stroke="#444" stroke-width="0.15">19</text>
<text x="360.3" y="942.0" font-size="18" textLength="150.0" lengthAdjust="spacingAndGlyphs" fill="#555">Chromosome</text>
<text transform="translate(27.5,672.0) rotate(-90)" x="0" y="0" font-size="33" text-anchor="middle" fill="#000">LOD</text>
<polyline points="97.6,348.7 98.0,352.7 98.1,356.7 97.9,360.7 98.7,364.6 99.0,368.6 99.1,372.6 99.5,376.5 101.3,380.3 101.9,375.5 103.2,371.0 103.7,366.8 104.3,362.6 104.9,358.5 105.1,354.3 105.2,349.9 106.1,345.6 106.9,341.3 106.8,337.2 108.0,333.2 108.3,329.1 107.8,324.9 108.8,320.9 109.1,324.7 110.6,328.3 110.7,332.7 111.7,337.0 112.5,341.3 114.3,341.3 116.2,339.4 118.0,337.6 119.9,335.7 121.8,337.6 123.6,341.3 124.4,345.0 125.5,348.7 126.2,352.4 126.7,356.1 126.4,359.8 126.8,364.5 127.3,369.1 128.2,363.6 129.2,359.8" fill="none" stroke="#000" stroke-width="3.0" stroke-linejoin="round" stroke-linecap="round"/>
<polyline points="151.4,348.7 154.2,348.7 156.1,353.2 157.0,358.0 158.1,361.6 158.7,365.4 159.6,369.0 159.8,372.8 162.6,378.4 165.3,382.1 168.1,384.0 170.9,387.7 173.7,385.8 174.6,381.2 175.5,376.5 175.6,372.8 176.2,369.1 176.0,365.4 176.2,361.7 176.2,358.0 176.5,354.3 176.5,350.6 176.6,346.6 176.5,342.6 177.5,338.7 177.6,334.7 177.5,330.7 177.5,326.7 177.4,322.7 177.3,318.8 177.3,314.8 177.5,310.8 177.4,306.8 178.4,302.9 178.1,298.9 178.3,294.9 180.2,300.5 180.1,304.8 180.9,309.1 181.1,313.5 180.9,317.8 181.3,322.2 182.0,326.5 183.2,330.1 183.6,333.8 183.9,337.6 183.0,341.3" fill="none" stroke="#000" stroke-width="3.0" stroke-linejoin="round" stroke-linecap="round"/>
<polyline points="193.2,356.1 193.0,360.3 193.9,364.3 193.7,368.4 194.8,372.4 195.0,376.5 196.9,372.8 197.0,368.4 198.3,364.2 198.7,359.8 199.3,356.2 199.0,352.4 199.0,348.7 199.5,345.0 200.6,341.3 200.6,337.6 200.0,333.8 200.5,330.1 200.5,326.4 200.7,322.7 201.5,319.0 201.3,322.8 201.9,326.5 202.7,330.1 202.7,333.9 203.3,337.6 203.7,341.3 205.0,344.9 205.6,348.7 208.3,352.4 211.1,354.3 213.0,359.8 213.6,363.6 214.8,367.3 216.2,371.8 216.7,376.5 218.5,378.4 219.1,374.7 218.8,370.9 219.6,367.3 219.7,363.5 220.4,359.8 220.3,356.1 221.2,352.4 221.2,348.7 220.7,345.0 221.5,341.3 220.9,337.6 221.3,333.9 221.5,330.2 222.3,326.5 222.3,322.8 221.9,319.0 223.2,315.4 222.6,311.6 223.2,307.9 223.5,304.2 224.7,300.5 225.0,296.8 226.9,300.5 227.3,304.2 227.5,307.9 228.0,311.6 228.1,315.3 227.8,319.0 228.8,315.4 229.7,311.6 229.8,307.4 230.7,303.3 230.9,299.1 231.5,294.9 233.4,296.8" fill="none" stroke="#000" stroke-width="3.0" stroke-linejoin="round" stroke-linecap="round"/>
<polyline points="241.7,330.2 242.2,334.2 241.9,338.4 242.9,342.4 243.1,346.5 243.6,350.6 243.7,354.3 245.1,357.9 245.7,361.6 245.3,365.5 246.4,369.1 246.9,373.8 248.2,378.4 248.3,374.7 248.6,370.9 249.6,367.3 250.2,363.6 250.1,359.8 249.9,356.1 251.0,352.5 251.1,348.7 250.9,345.0 250.9,341.3 250.7,337.6 250.8,333.8 252.1,330.2 251.4,326.4 251.9,322.7 252.5,318.4 252.3,314.1 252.9,309.8 253.4,306.1 253.2,302.3 252.9,298.6 252.9,294.9 253.6,291.2 253.0,287.5 253.3,283.8 253.8,280.1 253.8,276.4 255.6,278.2 255.4,282.0 255.8,285.7 256.3,289.3 255.7,293.1 256.7,296.8 257.0,300.5 256.6,304.2 257.1,308.4 257.1,312.5 257.8,316.7 257.5,320.9 259.4,322.7 259.2,319.0 259.7,315.3 260.1,311.6 260.3,307.9 260.3,304.1 261.0,300.5 262.1,296.8 262.1,293.1 264.0,296.8 263.4,300.5 263.8,304.2 263.8,307.9 263.9,311.6 264.0,315.3" fill="none" stroke="#000" stroke-width="3.0" stroke-linejoin="round" stroke-linecap="round"/>
<polyline points="274.2,333.9 275.5,337.5 276.1,341.3 276.4,337.5 277.9,333.9 279.8,339.4 280.6,343.1 279.9,346.9 280.7,350.6 281.4,355.3 282.5,359.8 282.6,363.6 284.3,367.2 284.4,371.0 285.5,367.3 286.3,363.6 288.1,358.0 290.9,359.8 291.4,364.0 291.5,368.2 292.5,372.3 292.7,376.5 293.1,380.4 294.6,384.0 296.5,378.4 296.2,374.7 296.9,371.0 297.4,367.3 297.8,363.6 297.8,359.9 297.9,356.1 298.3,352.4 298.6,348.7 298.3,345.0 300.2,339.4 300.5,343.5 300.3,347.6 300.2,351.7 300.5,355.8 301.1,359.8 301.8,363.5 302.0,367.3 302.9,371.0 303.5,367.3 303.3,363.6 303.4,359.9 303.3,356.1 303.6,352.4 303.8,348.7 303.3,345.0 303.9,341.3 305.0,337.6 305.7,333.9 305.5,337.6 305.9,341.3 306.7,345.0 307.0,340.7 306.8,336.3 307.0,332.0 306.8,335.7 307.1,339.4 307.3,343.2 306.9,346.9 307.9,350.6 307.2,354.3 307.6,358.0" fill="none" stroke="#000" stroke-width="3.0" stroke-linejoin="round" stroke-linecap="round"/>
<polyline points="315.3,343.2 315.7,338.4 317.2,333.9 317.5,329.8 317.6,325.7 317.4,321.6 318.2,317.6 318.1,313.5 318.6,308.8 319.1,304.2 319.3,300.5 319.9,296.8 319.2,293.1 319.1,289.3 319.6,285.6 320.0,281.9 320.5,278.2 320.2,274.5 320.9,270.8 320.6,267.1 321.6,263.4 321.5,259.7 321.3,256.0 322.0,252.3 321.4,248.5 321.9,244.8 321.8,241.1 321.6,237.5 322.1,234.0 322.7,230.4 322.9,226.9 323.1,223.3 322.6,219.7 323.0,216.2 323.0,212.6 322.9,209.0 322.8,205.4 323.4,201.9 323.9,198.3 324.1,194.7 324.0,191.1 324.4,187.6 324.0,184.0 324.1,180.1 324.2,176.3 324.9,172.5 325.0,168.7 325.2,164.9 325.9,161.1 327.8,159.2 328.0,154.9 328.4,150.6 328.5,146.3 328.8,142.0 330.7,143.9 330.9,147.7 330.3,151.6 330.1,155.4 330.7,159.2 331.2,163.0 331.2,166.8 330.2,170.6 330.7,174.4 331.3,178.0 330.6,181.5 330.8,185.1 331.2,188.6 330.7,192.2 331.7,195.7 331.6,199.2 331.3,202.8 331.9,206.3 331.0,209.9 331.7,213.4 331.9,216.9 332.1,220.5 331.6,224.0 333.5,225.9 333.1,229.7 333.1,233.5 332.6,237.2 332.4,241.0 331.9,244.8 332.0,248.5 331.6,252.5 332.1,256.5 332.8,260.5 332.6,264.4 333.1,268.4 333.4,272.4 333.0,276.4 333.2,280.4 333.0,284.4 333.8,288.4 333.9,292.4 333.9,296.5 333.9,300.5 333.8,304.2 334.2,307.9 334.2,311.6 334.2,315.3 334.8,319.0 334.8,322.7 334.8,327.1 335.0,331.4 335.8,335.7 336.7,340.3 336.7,345.0 336.4,348.7 336.9,352.4 337.8,356.1 337.6,359.8 338.0,363.6 338.1,367.3 338.5,371.0 338.5,374.7 339.5,378.4 340.4,380.3 342.2,378.4" fill="none" stroke="#000" stroke-width="3.0" stroke-linejoin="round" stroke-linecap="round"/>
<polyline points="353.4,358.0 353.4,354.3 353.8,350.6 354.3,346.9 354.3,343.2 354.7,339.5 354.3,335.7 354.8,339.4 355.2,343.2 355.5,346.9 356.2,350.6 357.0,355.2 357.1,359.8 357.8,356.2 358.4,352.5 358.6,348.7 358.9,345.0 359.8,341.3 359.8,337.5 360.8,333.9 361.3,337.7 362.6,341.3 362.2,345.0 362.4,348.7 363.1,352.4 362.9,356.2 363.6,359.8 363.6,363.6 364.3,359.9 364.4,356.2 364.0,352.4 363.8,348.7 364.5,345.0 365.1,341.3 365.8,337.6 366.4,333.9 367.0,329.8 367.1,325.7 366.9,321.6 368.2,317.6 368.2,313.5 370.1,317.2 370.8,321.3 370.2,325.5 371.2,329.7 371.0,333.9 371.9,337.6 372.4,341.9 372.2,346.3 372.9,350.6 374.2,354.2 374.7,358.0 376.6,356.1 378.4,358.0 378.9,354.2 380.3,350.6 380.5,346.4 381.0,342.2 381.4,338.1 381.2,333.9" fill="none" stroke="#000" stroke-width="3.0" stroke-linejoin="round" stroke-linecap="round"/>
<polyline points="388.6,287.5 391.4,285.6 393.3,289.4 393.5,293.1 394.2,296.8 394.6,300.6 396.0,304.2 396.7,308.5 396.7,312.9 397.9,317.2 398.8,321.3 399.2,325.5 399.3,329.7 399.7,333.9 400.5,338.0 400.4,342.3 401.0,346.4 401.6,350.6 401.8,354.7 401.6,358.8 402.1,362.8 402.6,366.9 402.5,371.0 403.5,372.8 405.3,378.4 408.1,384.0 410.9,385.8 413.7,385.8 414.0,385.8 417.7,382.1 420.5,376.5 421.0,372.8 422.1,369.2 422.3,365.4 423.3,361.8 422.9,357.9 424.2,354.3 424.2,350.6 425.2,346.5 425.2,342.2 425.7,338.1 426.1,333.9 426.6,337.6 426.5,341.3 426.7,345.0 427.0,348.7 427.0,352.4 427.8,356.1 426.8,359.9 427.5,363.6 427.8,367.3 427.4,371.0 427.9,374.7 428.3,371.0 428.5,367.3 428.8,363.6 429.4,359.9 428.9,356.1 429.8,352.4 430.0,348.7 430.9,345.1 430.7,341.3 431.1,345.1 432.5,348.7 433.7,352.4 434.4,356.1 435.4,359.8 436.3,363.6 437.6,367.2 438.1,371.0 440.0,376.5 440.9,372.8 441.8,371.0" fill="none" stroke="#000" stroke-width="3.0" stroke-linejoin="round" stroke-linecap="round"/>
<polyline points="450.2,348.7 452.0,345.0 452.4,348.7 452.3,352.5 453.0,356.1 453.1,359.9 454.2,363.6 454.8,367.3 455.9,370.9 456.7,374.7 459.4,374.7 461.3,371.0 461.9,367.2 463.2,363.6 465.0,359.8 467.8,356.1 470.6,358.0 473.4,356.1 476.1,354.3 478.0,352.4 479.9,350.6" fill="none" stroke="#000" stroke-width="3.0" stroke-linejoin="round" stroke-linecap="round"/>
<polyline points="489.1,332.0 489.7,327.4 490.1,322.7 491.9,319.0 492.5,315.3 491.7,311.6 492.6,307.9 491.7,304.2 492.1,300.5 492.2,296.8 492.9,293.1 492.5,289.4 492.8,285.6 494.7,283.8 496.5,283.8 498.4,281.9 500.3,280.1 500.7,275.7 501.6,271.4 502.1,267.1 502.1,263.3 503.0,259.7 503.4,256.0 502.7,252.2 503.2,248.5 503.0,244.8 503.0,241.0 503.4,237.3 503.5,233.6 504.6,229.7 505.7,225.9 506.9,222.1 508.2,218.3 510.1,216.4 510.2,212.6 509.7,208.8 509.8,205.0 510.3,201.1 510.3,197.3 510.2,193.5 510.1,189.7 512.0,185.9 512.8,182.1 512.8,178.3 513.0,174.4 513.1,170.6 512.0,166.8 512.0,163.0 513.3,158.3 513.9,153.5 516.8,151.6 518.7,149.6 519.4,145.2 519.8,140.8 519.7,136.3 520.6,136.3 520.8,140.1 520.8,143.9 520.1,147.7 521.0,151.6 520.0,155.4 520.2,159.2 521.1,163.0 520.6,166.8 520.9,170.6 520.4,174.4 520.9,178.3 521.1,182.1 520.2,185.9 520.7,189.7 520.6,193.5 522.5,199.2 522.3,203.0 523.2,206.6 522.9,210.4 522.7,214.1 523.5,217.8 523.4,221.5 522.9,225.2 522.7,228.9 522.7,232.6 523.9,236.3 523.5,240.0 523.2,244.3 522.9,248.5 522.6,252.3 523.1,256.0 522.9,259.7 523.6,263.4 523.9,267.1 523.9,270.8 524.1,274.5 523.6,278.2 523.8,281.9" fill="none" stroke="#000" stroke-width="3.0" stroke-linejoin="round" stroke-linecap="round"/>
<polyline points="532.1,363.6 534.9,359.8 537.7,356.1 538.0,352.4 538.4,348.7 538.2,345.0 538.6,341.3 538.9,337.6 539.5,333.9 540.1,330.2 540.4,326.5 540.5,322.8 539.6,319.0 539.7,315.3 540.9,311.6 540.5,307.9 542.3,306.1 544.2,309.8 544.9,314.1 545.1,318.5 546.0,322.7 547.0,326.5 547.6,330.1 547.9,333.9 548.2,337.6 548.5,341.3 548.8,345.0 549.2,348.7 549.3,352.4 549.8,356.1 550.8,359.8 550.7,363.6 550.9,367.3 551.6,371.0" fill="none" stroke="#000" stroke-width="3.0" stroke-linejoin="round" stroke-linecap="round"/>
<polyline points="562.7,363.6 564.6,367.3 566.4,371.0 567.2,367.3 566.7,363.5 567.4,359.8 567.8,355.2 568.3,350.6 568.9,346.3 568.8,341.9 569.2,337.6 569.1,333.9 569.3,330.1 569.9,326.5 570.2,322.7 569.8,319.0 571.1,315.4 571.2,311.6 571.1,307.9 571.8,304.2 572.4,300.5 572.6,296.8 572.9,293.1 574.8,291.2 575.2,294.9 575.3,298.6 575.7,302.3 576.2,306.1 576.6,309.8 577.7,305.2 577.6,300.5 578.6,296.8 578.5,293.0 579.4,289.4 580.4,285.6 581.3,283.8 583.1,280.1 585.0,276.4 586.9,276.4" fill="none" stroke="#000" stroke-width="3.0" stroke-linejoin="round" stroke-linecap="round"/>
<polyline points="596.1,333.9 598.0,335.7 598.0,340.4 598.9,345.0 599.4,341.3 599.7,337.6 600.0,333.9 599.8,330.2 599.9,326.5 600.7,322.8 600.8,319.1 600.8,315.3 600.8,311.6 601.2,307.9 601.3,304.2 601.0,300.5 601.6,296.8 600.9,293.0 601.4,289.4 601.7,285.6 602.0,281.3 601.7,277.0 602.6,272.7 604.5,274.5 604.8,278.6 604.7,282.7 604.9,286.8 605.5,290.8 605.4,294.9 606.3,300.5 605.9,304.2 606.4,307.9 607.0,311.6 606.8,315.3 607.0,319.0 607.3,322.7 607.5,327.1 608.0,331.4 608.2,335.7 608.5,339.6 610.0,343.2 611.9,341.3 613.0,337.6 613.7,333.9 614.2,330.2 614.5,326.5 615.0,322.8 614.7,319.0 614.6,315.3 615.6,311.6 617.5,313.5 618.4,319.0 618.7,322.8 619.3,326.5 619.3,330.2 620.1,333.9 620.1,337.6 620.2,341.3 620.6,345.0 620.2,348.7 619.8,352.4 620.0,356.2 619.3,359.8 619.3,363.6 618.2,367.2 618.4,371.0" fill="none" stroke="#000" stroke-width="3.0" stroke-linejoin="round" stroke-linecap="round"/>
<polyline points="629.9,374.7 631.7,371.0 632.7,367.3 633.6,363.6 633.8,359.8 634.6,356.2 634.3,352.4 634.5,348.7 635.4,345.0 637.3,348.7 637.0,352.5 637.7,356.1 638.2,359.8 638.1,363.6 639.3,367.2 639.1,371.0 641.0,374.7 642.0,371.0 642.8,367.3 643.6,363.6 643.8,359.8 643.7,355.2 644.7,350.6" fill="none" stroke="#000" stroke-width="3.0" stroke-linejoin="round" stroke-linecap="round"/>
<polyline points="656.8,254.1 660.5,252.3 661.4,257.8 661.3,262.5 662.3,267.1 663.2,270.8 663.3,274.5 664.1,278.2 664.2,281.9 664.8,286.3 665.3,290.6 666.0,294.9 667.0,299.5 667.0,304.2 666.9,308.9 667.9,313.5 668.3,317.2 668.6,320.9 668.9,324.6 669.5,328.3 669.7,332.0 670.6,336.3 670.8,340.7 671.6,345.0 672.0,348.7 672.8,352.4 672.7,356.2 673.4,359.8 674.3,363.5 675.3,367.2 675.3,371.0 676.2,374.6 677.1,378.3 677.2,382.1 679.0,385.8" fill="none" stroke="#000" stroke-width="3.0" stroke-linejoin="round" stroke-linecap="round"/>
<polyline points="689.2,371.0 691.1,365.4 691.9,370.0 692.0,374.7 692.2,378.4 692.9,382.1 695.7,384.0 698.5,385.8 701.3,384.0 702.5,379.3 704.1,374.7 705.1,371.1 705.6,367.3 705.9,363.6 707.8,359.8 709.6,363.6 710.6,367.2 710.5,371.0 710.0,374.7 710.5,378.4" fill="none" stroke="#000" stroke-width="3.0" stroke-linejoin="round" stroke-linecap="round"/>
<polyline points="720.4,371.0 720.8,374.8 722.3,378.4 724.1,382.1 726.9,384.0 729.7,385.8 732.5,385.8 735.2,384.0 737.1,378.4 737.5,374.6 739.0,371.0 740.4,367.4 740.8,363.6 742.7,359.8 743.1,363.5 743.3,367.3 743.6,371.0" fill="none" stroke="#000" stroke-width="3.0" stroke-linejoin="round" stroke-linecap="round"/>
<polyline points="755.6,371.0 757.5,367.3 759.4,365.4 761.2,371.0 763.1,376.5 764.9,378.4 766.8,382.1 768.6,384.0 771.4,387.7" fill="none" stroke="#000" stroke-width="3.0" stroke-linejoin="round" stroke-linecap="round"/>
<polyline points="98.6,378.4 100.4,376.5 101.3,372.6 100.6,368.6 101.2,364.6 102.0,360.7 102.0,356.7 102.0,352.7 102.3,348.7 102.9,345.2 102.8,341.6 102.7,338.1 102.2,334.5 102.8,331.0 102.7,327.5 102.5,323.9 102.4,320.4 103.1,316.8 102.7,313.3 103.2,309.8 105.1,307.9 105.2,311.6 105.1,315.3 105.4,319.0 105.8,322.7 105.5,326.5 105.8,330.2 105.4,333.9 105.8,337.6 106.0,341.3 105.7,345.1 106.1,348.8 106.9,352.4 107.3,348.7 106.7,345.0 106.6,341.3 107.6,337.6 107.6,333.9 107.4,330.2 107.2,326.5 107.1,322.7 107.7,319.0 107.6,315.3 107.7,311.6 107.8,307.9 108.0,304.2 107.4,300.5 107.8,296.8 109.7,294.9 110.3,299.2 109.7,303.6 110.6,307.9 110.2,311.6 110.3,315.3 111.4,319.0 111.4,322.7 111.3,326.5 111.1,330.2 111.0,333.9 111.7,337.6 111.2,341.3 111.8,345.0 111.9,348.7 111.3,352.4 111.5,356.1 111.8,352.4 112.2,348.7 112.1,345.0 112.5,341.3 112.6,337.6 112.4,333.9 112.7,330.2 113.3,326.5 113.5,322.8 112.8,319.0 113.4,315.3 115.3,319.0 115.9,322.7 115.4,326.5 115.8,330.2 116.2,333.9 116.7,329.7 116.3,325.5 116.8,321.4 117.1,317.2 117.4,312.8 118.7,308.6 119.0,304.2 119.9,300.5 119.9,296.5 120.4,292.5 120.9,288.5 120.3,284.4 120.7,280.4 120.8,276.4 121.3,272.4 121.6,268.4 121.2,264.3 121.3,260.3 121.1,256.3 121.8,252.3 122.2,248.6 121.3,244.9 121.4,241.3 122.0,237.6 122.0,233.9 122.3,230.3 121.8,226.6 122.1,223.0 122.5,226.5 123.6,230.0 124.3,233.7 124.3,237.4 123.9,241.1 124.7,244.8 124.6,248.5 124.5,252.3 124.5,256.0 124.8,259.7 125.6,263.4 126.0,267.1 126.0,270.8 125.9,274.5 126.4,278.2 126.9,282.5 127.5,286.9 127.3,291.2 127.4,295.3 128.0,299.4 127.9,303.5 128.3,307.6 129.2,311.6 129.6,316.4 131.0,320.9 132.0,325.5 132.9,330.2 132.9,333.9 133.9,337.6 134.2,341.3 134.5,345.0 134.7,348.7 134.7,353.4 135.7,358.0" fill="none" stroke="#ff0000" stroke-width="2.85" stroke-linejoin="round" stroke-linecap="round"/>
<polyline points="144.0,378.4 145.2,374.8 145.1,370.9 145.9,367.2 146.8,363.6 147.3,359.2 147.9,354.9 148.6,350.6 149.5,346.8 150.5,343.2 152.4,345.0 152.9,348.7 153.5,352.4 153.4,356.1 153.5,359.9 154.2,363.6 154.8,367.3 155.1,371.0 156.1,374.7 157.1,371.0 157.9,367.3 158.2,363.5 159.5,359.9 159.8,356.1 161.6,354.3 164.4,352.4 164.9,356.2 166.3,359.8 167.1,364.1 168.1,368.4 168.1,372.8 168.2,369.3 168.4,365.8 168.5,362.3 169.1,358.7 168.8,355.2 169.0,351.7 168.3,348.1 168.9,344.6 169.3,341.1 169.1,337.6 168.7,333.9 168.9,330.1 169.9,326.5 170.3,322.8 169.5,319.0 170.3,315.3 169.9,311.6 170.8,307.9 170.9,304.2 170.9,300.5 170.8,296.8 171.0,293.0 171.9,289.4 171.8,285.6 172.2,281.3 172.8,277.0 172.8,272.7 172.8,269.2 173.0,265.6 173.9,262.2 173.8,258.7 173.8,255.1 174.0,251.6 174.5,248.2 174.7,244.6 174.6,241.1 175.1,237.4 174.6,233.8 175.1,230.1 174.9,226.4 175.2,222.7 175.1,219.0 175.2,215.3 175.3,211.7 175.4,208.0 175.0,204.3 174.9,200.6 175.2,196.9 175.3,193.2 174.9,189.5 175.0,185.9 176.9,184.9 177.9,189.7 178.0,193.5 178.3,197.3 177.6,201.1 177.3,204.9 178.0,208.7 177.9,212.6 178.5,216.8 178.7,221.1 178.7,225.4 178.8,229.7 179.1,233.5 178.3,237.2 179.5,240.9 179.2,244.7 179.5,248.4 178.9,252.1 178.8,255.9 179.6,259.6 179.7,263.4 179.3,267.1 179.5,270.8 179.6,274.5 179.4,278.3 180.6,281.9 180.8,285.6 180.9,289.3 181.0,293.0 181.2,296.8 181.1,300.5 181.3,304.7 181.9,308.8 182.8,313.0 183.0,317.2" fill="none" stroke="#ff0000" stroke-width="2.85" stroke-linejoin="round" stroke-linecap="round"/>
<polyline points="189.5,322.7 191.3,317.2 191.0,313.7 191.3,310.2 191.2,306.7 192.0,303.2 191.6,299.7 192.0,296.2 192.4,292.7 192.1,289.2 192.2,285.6 192.4,281.0 193.2,276.4 193.8,272.4 193.9,268.4 193.4,264.4 193.8,260.5 194.4,256.5 193.9,252.5 194.1,248.5 194.0,244.9 194.1,241.2 195.4,237.6 195.5,233.9 195.3,230.2 195.8,226.6 196.0,222.9 196.0,219.2 197.1,215.6 197.0,212.0 196.8,208.3 196.8,204.6 197.6,201.0 197.9,197.3 197.8,193.6 198.4,190.0 198.4,186.3 198.3,182.7 197.9,179.0 197.9,175.4 198.2,171.7 198.2,168.1 199.0,164.4 198.7,160.8 198.9,157.1 198.8,153.4 199.9,149.2 199.5,144.8 200.3,140.6 200.7,136.3 203.6,134.4 204.3,137.8 203.9,141.4 205.2,144.8 204.5,148.4 204.8,151.9 205.5,155.3 206.0,151.7 205.2,148.0 205.5,144.4 206.1,140.7 205.4,137.1 206.0,133.4 206.0,129.8 206.7,126.1 206.3,122.5 206.7,118.8 206.1,115.1 206.5,111.5 207.0,107.7 206.7,103.9 207.5,100.1 206.7,96.2 207.4,92.4 209.3,92.4 209.1,96.2 209.9,100.0 209.6,103.9 209.8,107.7 210.3,111.5 209.6,115.3 210.4,119.1 210.3,122.9 211.9,126.7 213.1,130.6 213.6,134.2 213.3,137.8 213.0,141.4 212.7,145.0 213.1,148.6 212.6,152.2 213.3,155.9 212.9,159.5 212.7,163.1 212.1,166.7 212.2,170.3 212.4,173.9 213.1,177.5 212.6,181.1 212.1,184.8 212.6,188.4 212.2,192.0 212.3,195.6 212.2,199.2 215.0,201.1 215.8,204.9 214.7,208.8 215.1,212.6 215.9,216.4 215.6,220.2 216.1,224.0 216.0,227.8 218.9,229.7 218.6,233.5 218.0,237.3 217.6,241.1 218.2,244.8 218.4,248.5 218.7,252.2 218.7,256.0 219.5,259.7 219.5,263.4 220.8,267.0 221.3,270.8 221.2,274.5 221.7,278.2 221.1,282.0 221.7,285.7 221.6,289.4 222.2,293.1 221.7,296.8 222.6,300.5 222.3,304.2 222.9,307.9 223.1,311.6 222.6,315.3 222.8,319.0 223.2,322.7 223.9,326.4 223.9,330.2 224.1,333.9 223.9,338.1 224.5,342.2 225.3,346.4 225.0,350.6 225.7,354.2 226.2,358.0 226.6,361.7 226.6,365.4 226.9,369.1 228.8,374.7" fill="none" stroke="#ff0000" stroke-width="2.85" stroke-linejoin="round" stroke-linecap="round"/>
<polyline points="238.0,309.8 237.7,305.7 238.8,301.7 238.4,297.7 238.7,293.7 239.0,289.7 239.0,285.6 240.8,280.1 242.7,285.6 243.0,281.9 243.2,278.2 242.7,274.5 242.7,270.8 242.9,267.1 243.0,263.4 242.8,259.6 243.7,256.0 244.4,252.3 244.5,248.5 245.2,244.8 245.1,241.0 245.1,237.2 245.2,233.4 244.6,229.6 245.1,225.8 245.2,222.0 245.7,218.3 245.2,214.4 245.8,210.7 245.8,207.0 246.0,203.4 246.4,199.8 246.6,196.2 246.4,192.6 246.0,188.9 246.8,185.3 247.0,181.7 246.7,178.1 246.8,174.4 247.7,172.5 247.5,168.9 247.7,165.2 247.3,161.6 248.0,158.0 248.4,154.3 247.8,150.7 248.1,147.0 248.3,143.4 247.5,139.8 248.4,136.1 248.1,132.5 247.6,128.8 247.4,125.2 247.6,121.6 248.1,117.9 248.2,114.3 247.8,110.6 248.5,107.0 247.9,103.3 248.0,99.7 247.6,96.1 248.1,92.4 248.9,88.5 248.2,84.4 249.4,80.5 249.3,76.5 249.6,72.6 249.8,68.6 252.1,69.5 252.1,73.1 252.5,76.7 251.7,80.3 251.7,83.9 251.9,87.5 252.2,91.1 252.9,94.6 252.1,98.2 252.8,101.8 252.1,105.4 252.9,109.0 252.6,112.6 252.3,116.2 253.1,119.7 252.7,123.3 253.3,126.9 253.4,130.5 253.3,134.1 252.4,137.7 252.5,141.3 252.9,144.8 253.3,148.4 252.9,152.0 252.9,155.6 253.2,159.2 254.4,163.0 254.5,166.5 254.3,170.0 254.1,173.5 255.0,177.0 254.8,180.6 254.5,184.1 255.0,187.6 254.7,191.1 254.5,194.6 255.0,198.1 254.6,201.6 254.9,205.2 254.6,208.7 254.9,212.2 254.5,215.7 255.3,219.2 254.5,222.7 255.2,226.2 254.8,229.8 254.2,233.5 254.6,237.3 254.8,241.0 254.8,244.8 254.7,248.5 256.6,254.1 257.2,250.0 257.7,245.8 258.3,241.6 258.4,237.4 259.1,241.2 260.3,244.8 261.2,248.5 262.1,252.3 263.3,248.6 263.8,244.9 264.0,241.1" fill="none" stroke="#ff0000" stroke-width="2.85" stroke-linejoin="round" stroke-linecap="round"/>
<polyline points="271.4,387.7 272.8,383.4 273.2,379.0 274.2,374.7 274.6,371.0 275.2,367.3 276.1,363.6 276.1,359.8 277.9,363.6 279.8,359.8 280.4,356.1 281.0,352.4 281.6,348.7 282.0,345.0 283.0,341.4 282.8,337.6 283.5,333.9 283.4,329.6 284.7,325.6 285.3,321.4 285.3,317.2 286.0,313.5 286.2,309.8 286.7,306.1 286.6,302.3 287.2,298.6 288.2,294.0 289.0,289.4 289.5,284.6 290.9,280.1 290.6,276.6 291.2,273.1 291.5,269.6 291.6,266.1 291.4,262.5 292.4,259.1 292.4,255.6 292.2,252.0 292.7,248.5 292.8,244.8 293.1,241.0 293.2,237.2 293.2,233.4 294.4,229.7 294.8,225.9 294.4,222.1 294.6,217.7 294.9,213.2 294.4,208.8 300.2,205.0 300.7,209.2 300.7,213.6 301.9,217.8 302.1,222.1 302.0,225.7 302.4,229.3 302.2,232.9 303.3,236.4 303.0,240.0 300.4,244.1 298.3,248.5 298.5,244.2 299.6,239.9 300.2,235.6 299.9,239.3 301.4,242.9 301.4,246.7 301.6,250.4 301.9,254.1 302.0,257.8 303.9,263.4" fill="none" stroke="#ff0000" stroke-width="2.85" stroke-linejoin="round" stroke-linecap="round"/>
<polyline points="310.7,267.1 310.7,263.3 312.1,259.7 312.5,256.0 312.6,252.3 312.8,248.5 313.0,244.8 313.6,241.1 313.3,237.4 313.5,233.7 314.4,230.0 315.0,226.2 314.4,222.3 314.8,218.5 315.4,214.6 315.6,210.8 315.1,206.9 314.9,203.1 315.4,199.2 317.1,195.3 319.2,191.6 318.9,195.4 319.1,199.1 320.0,202.8 319.4,206.5 320.1,210.2 320.1,214.0 320.7,217.7 320.0,221.4 320.0,225.2 321.1,228.9 320.7,232.6 321.4,236.3 321.1,240.0 320.8,243.9 321.9,247.8 321.9,251.6 321.3,255.5 321.9,259.4 321.3,263.2 321.8,267.1 322.3,271.8 323.7,276.4 324.2,272.4 323.8,268.4 324.7,264.5 325.3,260.5 325.0,256.5 324.8,252.5 325.5,248.5 326.2,244.8 327.4,241.1 327.9,244.8 327.8,248.6 328.7,252.2 329.0,255.9 329.3,259.7 329.3,263.4 329.2,267.1 329.2,270.8 329.9,274.5 329.7,278.2 329.6,282.0 330.2,285.6 330.3,289.4 330.9,293.1 331.0,296.8 330.4,300.5 331.1,304.2 331.1,307.9 331.8,311.6 331.5,315.3 332.3,319.0 332.0,322.7 331.8,326.5 332.9,330.2 333.1,333.9 333.5,337.6 333.9,341.3 334.6,345.0 334.1,348.7 334.7,352.4 334.9,356.1 334.8,359.8 334.6,363.6 335.7,367.2 335.6,371.0 335.3,374.7 335.8,378.4 336.7,384.0 338.5,382.1" fill="none" stroke="#ff0000" stroke-width="2.85" stroke-linejoin="round" stroke-linecap="round"/>
<polyline points="344.1,378.4 346.9,374.7 349.7,372.8 351.5,378.4 352.7,383.0 353.4,387.7 354.0,383.0 355.2,378.4 355.9,374.7 356.1,370.9 357.1,367.3 358.0,363.6 358.6,359.9 357.9,356.1 358.9,352.4 359.3,348.3 360.0,344.3 359.9,340.2 360.9,336.1 360.8,332.0 361.0,328.5 360.8,325.0 361.4,321.5 361.7,317.9 361.6,314.4 362.1,310.9 362.4,307.4 362.3,303.8 362.5,300.3 362.6,296.8 364.5,300.5 364.3,304.2 364.7,307.9 365.0,311.6 364.7,315.4 365.4,319.0 366.1,322.7 365.7,326.5 366.8,330.1 366.5,333.9 367.3,337.6 367.3,341.3 369.1,345.0 369.4,348.7 369.3,352.4 369.5,356.2 370.1,359.8 370.5,356.1 370.0,352.4 370.5,348.7 370.3,345.0 370.8,341.3 370.9,337.6 371.0,333.9 370.6,330.1 371.4,326.5 371.7,322.8 371.6,319.0 372.1,315.3 371.4,311.6 371.9,307.9 372.9,307.9 373.4,311.6 373.7,315.3 373.3,319.0 373.5,322.7 373.7,326.5 373.8,330.2 374.2,334.1 373.7,338.1 374.7,342.1 373.8,346.1 374.4,350.0 374.5,354.0 374.7,358.0" fill="none" stroke="#ff0000" stroke-width="2.85" stroke-linejoin="round" stroke-linecap="round"/>
<polyline points="381.2,365.4 384.9,363.6 388.6,367.3 390.5,372.8 392.3,378.4 395.1,382.1 397.9,385.8 399.7,382.1 401.0,377.5 401.6,372.8 403.5,376.5 404.7,380.2 405.3,384.0 407.2,378.4 407.2,374.6 408.1,371.0 409.9,369.1 411.1,372.8 411.8,376.5" fill="none" stroke="#ff0000" stroke-width="2.85" stroke-linejoin="round" stroke-linecap="round"/>
<polyline points="419.6,322.7 419.1,318.8 419.6,314.8 420.1,310.8 420.1,306.8 419.9,302.9 420.5,298.9 420.5,294.9 422.3,291.2 422.9,294.7 422.2,298.2 423.1,301.7 423.1,305.2 423.3,308.7 422.7,312.2 422.7,315.8 422.8,319.3 423.3,322.7 423.9,326.4 423.6,330.2 423.8,333.9 424.1,337.6 423.4,341.3 424.6,345.0 424.2,348.7 424.4,352.4 424.3,356.2 424.2,359.9 425.4,363.5 425.1,367.3 427.0,372.8 427.5,368.5 428.5,364.2 428.8,359.8 428.4,356.1 428.8,352.4 429.7,348.7 428.9,345.0 429.3,341.3 429.3,337.6 429.6,333.9 429.8,330.2 431.6,328.3 432.4,332.5 432.6,336.6 431.7,340.9 432.5,345.0 434.4,341.3 434.3,345.0 434.5,348.7 435.3,352.4 435.4,356.1 435.3,359.8 435.6,363.6 436.3,367.2 436.3,371.0 436.1,374.7 437.0,378.4 437.2,382.1 439.0,385.8 440.9,384.0 442.8,378.4 443.5,374.6 444.6,371.0 446.5,367.3" fill="none" stroke="#ff0000" stroke-width="2.85" stroke-linejoin="round" stroke-linecap="round"/>
<polyline points="455.7,333.9 457.6,333.9 457.1,337.6 457.7,341.3 458.5,345.0 458.2,348.7 458.0,352.4 458.8,356.1 458.6,359.8 458.5,363.6 460.4,369.1 462.2,374.7 462.9,378.5 464.1,382.1 465.9,384.0 469.6,378.4 473.4,376.5 477.1,376.5 480.8,376.5 483.6,380.3 485.4,378.4 486.0,374.7 485.9,371.0 486.4,367.3 486.1,363.6 486.3,359.8" fill="none" stroke="#ff0000" stroke-width="2.85" stroke-linejoin="round" stroke-linecap="round"/>
<polyline points="496.5,367.3 496.7,363.5 497.6,359.9 497.5,356.1 497.5,352.1 498.1,348.1 497.6,344.1 497.9,340.1 497.9,336.0 498.4,332.0 498.6,328.3 498.4,324.6 498.6,320.9 498.8,317.2 499.3,313.5 499.9,309.1 500.3,304.8 501.2,300.5 502.0,296.8 503.0,293.1 504.9,294.9 505.2,299.7 506.7,304.2 507.0,307.9 507.2,311.7 508.5,315.3 508.6,319.0 509.4,323.3 510.3,327.6 510.5,332.0 510.8,336.4 511.9,340.7 512.3,345.0 513.0,348.7 513.8,352.4 514.1,356.1 514.2,359.8 514.1,356.1 514.4,352.4 515.2,348.7 515.2,345.0 515.1,341.3 514.9,337.3 515.2,333.3 515.1,329.4 516.1,325.4 515.6,321.4 516.2,317.5 516.0,313.5 516.9,309.2 517.7,304.9 517.9,300.5 519.7,304.2 520.8,308.8 520.7,313.5 521.3,318.1 521.6,322.7 523.4,326.5 525.6,330.2 527.5,326.5 527.9,330.2 528.5,333.8 527.7,337.6 528.4,341.3 528.9,345.0 528.6,348.7 529.1,352.4 529.3,356.1 530.1,359.8 529.9,363.5 530.4,367.2 530.3,371.0 531.2,372.8" fill="none" stroke="#ff0000" stroke-width="2.85" stroke-linejoin="round" stroke-linecap="round"/>
<polyline points="539.5,359.8 542.3,358.0 543.5,361.6 544.0,365.3 544.2,369.1 546.0,371.0 547.9,367.3 549.8,372.8 551.6,378.4 553.5,382.1 554.4,387.7 557.2,389.5 559.0,387.7" fill="none" stroke="#ff0000" stroke-width="2.85" stroke-linejoin="round" stroke-linecap="round"/>
<polyline points="565.5,384.0 568.3,385.8 571.1,384.0 571.5,379.6 571.1,375.3 572.0,371.0 572.4,367.2 573.2,363.5 573.9,359.8 574.4,355.2 574.8,350.6 575.3,345.8 576.6,341.3 578.5,346.9 580.4,341.3 581.5,336.7 582.2,332.0 582.9,327.3 584.1,322.7 584.7,319.1 585.0,315.3 584.8,311.6 585.2,307.9 585.9,304.2 587.8,302.3 588.2,306.4 587.9,310.5 588.4,314.6 588.7,318.7 588.7,322.7 589.6,328.3 590.6,333.9 592.4,337.6" fill="none" stroke="#ff0000" stroke-width="2.85" stroke-linejoin="round" stroke-linecap="round"/>
<polyline points="598.9,384.0 600.8,385.8 601.8,382.2 601.7,378.3 602.6,374.7 602.8,370.9 603.4,367.2 603.7,363.5 604.5,359.8 604.5,356.0 605.1,352.3 606.3,348.7 607.3,345.0 607.4,348.7 607.8,352.4 607.8,356.2 607.9,359.9 609.0,363.5 609.1,367.3 609.8,363.6 610.0,359.8 611.0,355.7 610.6,351.5 611.7,347.4 611.9,343.2 612.6,346.9 613.7,350.6 615.6,345.0 617.5,348.7 619.3,348.7 619.7,352.6 621.2,356.1 621.2,359.9 622.1,363.6 622.1,359.8 622.9,356.1 623.0,352.4 623.9,348.7" fill="none" stroke="#ff0000" stroke-width="2.85" stroke-linejoin="round" stroke-linecap="round"/>
<polyline points="630.8,382.1 631.2,378.3 632.6,374.7 634.5,371.0 636.3,376.5 637.4,380.2 638.2,384.0 640.1,387.7 642.8,389.5 644.7,385.8 644.7,382.1 644.5,378.4 645.0,374.7 645.1,371.0 645.5,367.3 645.6,363.6 645.4,360.0 645.2,356.5 645.5,353.0 645.6,349.5 645.2,345.9 645.8,342.4 645.3,338.9 645.1,335.4 645.4,331.8 645.6,328.3 647.5,328.3 647.8,332.5 648.4,336.6 648.1,340.8 648.4,345.0 648.6,348.7 649.3,352.4 651.2,350.6" fill="none" stroke="#ff0000" stroke-width="2.85" stroke-linejoin="round" stroke-linecap="round"/>
<polyline points="660.5,324.6 660.7,320.5 661.1,316.5 660.4,312.3 661.1,308.3 661.4,304.2 661.2,300.5 660.9,296.8 661.3,293.1 660.9,289.4 661.4,285.6 661.6,281.9 662.0,278.2 662.0,274.5 662.3,270.8 662.3,267.1 662.3,263.4 662.2,259.7 662.8,256.0 663.6,252.3 663.2,248.5 663.5,244.3 663.6,240.0 663.5,236.1 664.3,232.1 664.0,228.1 664.6,224.2 664.8,219.4 665.1,214.6 666.7,213.6 667.3,217.1 667.6,220.7 668.9,224.2 669.3,228.4 669.3,232.6 669.1,236.9 669.9,241.1 671.5,243.2 672.0,250.0 671.8,253.6 672.0,257.1 672.0,260.7 672.3,264.3 672.4,267.8 672.6,271.4 672.0,275.0 672.0,278.5 672.6,282.1 672.5,285.6 672.2,289.4 673.4,293.0 673.5,296.8 673.3,300.5 673.4,304.2 673.8,308.2 673.9,312.1 673.3,316.1 674.4,320.1 674.5,324.1 674.6,328.0 674.4,332.0 674.3,335.7 675.1,339.4 675.5,343.1 675.1,346.9 675.3,350.6 675.6,354.3 676.0,358.0 675.9,361.7 675.9,365.4 676.2,369.1 676.8,373.5 677.3,377.8 678.1,382.1 679.9,385.8" fill="none" stroke="#ff0000" stroke-width="2.85" stroke-linejoin="round" stroke-linecap="round"/>
<polyline points="690.1,382.1 692.0,378.4 692.3,374.7 692.9,371.0 693.3,367.3 692.9,363.6 692.8,359.8 692.9,356.1 693.6,352.4 693.0,348.7 693.6,345.0 693.7,341.3 693.7,337.6 694.2,333.9 694.1,330.2 693.4,326.4 693.9,322.7 694.2,319.0 694.2,315.3 694.5,311.6 694.4,307.9 694.5,304.2 695.3,300.5 695.2,296.8 695.0,293.1 695.2,289.3 695.7,285.6 695.7,281.9 695.7,278.2 696.3,274.5 696.0,270.8 696.6,267.1 696.1,263.3 696.1,259.4 696.1,255.6 696.8,251.8 696.0,248.0 696.4,244.1 696.8,240.3 696.4,236.5 696.4,232.6 697.5,229.4 697.1,225.8 698.0,222.2 698.1,218.6 697.2,214.9 697.5,211.3 697.9,207.7 698.0,204.0 699.6,203.0 699.3,206.9 699.9,210.7 699.6,214.6 700.2,218.5 699.8,222.4 700.1,226.3 701.7,228.4 702.0,232.0 702.1,235.6 701.6,239.2 701.6,242.8 701.7,246.4 702.2,250.0 702.1,253.6 702.3,257.2 701.9,260.8 702.0,264.5 701.7,268.1 701.7,271.7 702.5,275.3 702.2,278.9 701.8,282.5 702.3,286.1 702.3,289.7 702.5,293.4 701.8,297.0 701.4,300.6 701.9,304.2 701.5,307.9 702.7,311.6 702.2,315.3 702.7,319.0 702.6,322.8 703.1,326.5 702.6,330.2 702.8,333.9 704.1,337.6 703.7,341.3 703.7,345.0 704.7,348.7 705.1,352.4 705.1,356.1 704.8,359.9 704.8,363.6 706.1,367.2 706.1,371.0 706.8,374.6 706.5,378.4 707.4,382.1 708.4,385.8 709.3,389.5" fill="none" stroke="#ff0000" stroke-width="2.85" stroke-linejoin="round" stroke-linecap="round"/>
<polyline points="719.5,369.1 719.7,365.4 720.0,361.7 720.9,358.0 721.4,354.3 721.3,350.6 721.4,346.8 721.8,343.1 722.4,339.5 722.9,335.8 723.5,332.1 723.2,328.3 723.2,324.3 723.7,320.3 723.7,316.3 724.2,312.2 723.5,308.2 724.1,304.2 723.9,300.5 724.0,296.8 725.2,293.1 724.6,289.3 725.0,285.6 725.3,281.3 725.2,277.0 726.0,272.7 727.8,270.8 729.7,272.7 729.9,276.2 730.3,279.7 729.6,283.2 730.1,286.7 729.5,290.2 730.0,293.7 730.0,297.2 729.7,300.7 729.7,304.2 729.9,307.9 730.2,311.6 730.5,315.3 730.6,319.0 729.7,322.8 730.5,326.5 730.8,330.2 730.8,333.9 730.5,337.6 730.6,341.3 730.0,345.3 731.0,349.2 730.2,353.2 730.6,357.2 730.7,361.2 730.2,365.1 730.6,369.1 730.9,373.2 731.5,377.3 731.1,381.4 731.2,385.5 731.5,389.5 733.4,384.0 734.0,380.3 734.1,376.5 735.3,372.9 735.2,369.1 736.1,364.5 736.2,359.8 738.0,356.1 739.1,351.6 739.0,346.9 739.3,351.2 739.2,355.5 739.9,359.8 740.1,364.5 740.8,369.1" fill="none" stroke="#ff0000" stroke-width="2.85" stroke-linejoin="round" stroke-linecap="round"/>
<polyline points="749.2,387.7 751.0,385.8 751.2,382.0 751.7,378.3 752.9,374.7 753.4,370.0 754.7,365.4 756.6,359.8 758.4,356.1 760.3,350.6 762.1,348.7 764.0,349.6 765.9,354.3 767.7,359.8 769.6,363.6" fill="none" stroke="#ff0000" stroke-width="2.85" stroke-linejoin="round" stroke-linecap="round"/>
<polyline points="98.7,840.4 100.1,845.0 100.6,849.7 101.5,853.3 101.5,857.1 103.3,859.0 105.2,860.8 107.1,861.7 108.9,860.8 110.8,860.8 113.5,859.0 115.4,857.1 117.3,851.5 119.1,849.7 121.0,847.8 122.8,853.4 123.6,849.6 124.7,846.0 125.6,842.3 125.7,838.5 126.5,834.8 127.2,830.5 127.2,826.1 128.4,821.9 129.3,820.0 130.6,823.6 131.2,827.4 131.2,831.2 133.0,834.7 133.0,838.6 133.9,843.2 134.9,847.8 135.8,849.7" fill="none" stroke="#000" stroke-width="3.0" stroke-linejoin="round" stroke-linecap="round"/>
<polyline points="145.1,847.8 145.6,852.5 146.9,857.1 148.8,859.0 150.6,857.1 152.5,853.4 154.4,857.1 156.2,859.0 159.0,859.0 161.8,857.1 164.6,853.4 167.3,849.7 169.2,844.1 169.9,840.4 170.1,836.7 170.1,833.0 172.0,827.4 172.8,823.7 173.8,820.0 175.7,814.4 177.0,809.9 177.5,805.2 178.4,801.0 178.8,796.9 179.5,792.7 179.4,788.5 179.1,784.5 180.2,780.5 179.7,776.5 180.2,772.6 179.8,768.6 180.7,764.6 180.3,760.6 181.3,756.9 181.9,760.4 181.4,763.9 181.9,767.4 181.8,770.9 181.9,774.5 181.7,778.0 181.6,781.5 182.2,785.0 182.2,788.5 182.4,792.6 183.1,796.6 183.6,800.7 183.2,804.8 184.0,808.9 184.7,812.6 185.0,816.3" fill="none" stroke="#000" stroke-width="3.0" stroke-linejoin="round" stroke-linecap="round"/>
<polyline points="193.3,859.0 196.1,857.1 198.9,856.2 200.7,853.4 202.6,847.8 203.5,851.5 205.4,853.4 207.2,855.3 210.0,857.1 207.6,859.0 210.3,857.1 212.2,851.5 212.0,847.2 212.6,842.9 213.1,838.6 213.5,834.9 212.9,831.1 213.6,827.4 213.4,823.7 213.7,820.0 213.5,816.3 213.2,812.6 213.2,808.9 213.4,805.2 213.7,801.5 213.9,797.7 214.1,794.0 213.7,790.3 214.5,786.6 214.6,782.9 215.0,779.2 215.1,775.5 215.6,771.8 216.4,768.1 215.8,764.3 216.5,760.6 217.3,757.0 217.0,753.2 217.9,749.5 217.5,745.8 218.3,742.1 219.5,738.5 219.5,734.7 220.2,731.0 221.2,726.9 220.8,722.6 221.5,718.4 222.0,714.3 222.3,710.5 221.6,706.6 221.7,702.8 222.2,699.0 222.0,695.2 222.7,691.2 222.0,687.2 222.0,683.2 222.5,679.3 225.2,677.9 226.0,682.2 225.9,686.6 227.6,690.8 227.8,695.2 228.0,698.7 228.7,702.3 228.8,705.9 229.7,709.4 229.6,713.0 229.6,716.6 230.5,720.1 229.8,723.5 229.7,727.3 230.3,731.0 230.7,734.7 230.9,738.4 231.3,742.1 232.2,745.8 231.8,749.6 232.6,753.2 233.5,756.9" fill="none" stroke="#000" stroke-width="3.0" stroke-linejoin="round" stroke-linecap="round"/>
<polyline points="242.8,756.9 242.8,760.7 243.2,764.4 243.2,768.1 243.6,771.8 243.7,775.5 244.1,779.2 244.4,782.9 244.2,786.6 244.4,790.3 244.7,794.0 244.8,798.1 245.6,802.2 245.1,806.3 245.5,810.4 245.6,814.4 247.4,816.3 249.3,818.2 249.6,814.1 249.8,810.0 250.4,805.9 249.6,801.8 250.2,797.7 250.4,794.0 251.2,790.4 251.1,786.6 250.7,782.9 251.2,779.2 251.6,775.5 252.1,771.8 251.6,768.1 252.3,764.4 252.1,760.6 251.8,756.9 253.0,753.3 252.6,749.5 252.5,745.8 253.0,742.1 253.6,738.4 253.6,734.7 254.1,731.0 254.1,727.3 253.9,723.5 254.4,720.0 254.2,716.5 254.9,713.0 253.9,709.4 255.0,705.9 255.0,702.4 254.6,698.8 255.4,695.3 255.1,691.8 255.3,688.3 255.8,684.8 255.5,681.2 256.7,688.1 257.3,692.3 257.5,696.5 257.3,700.8 257.8,705.0 258.2,708.6 257.6,712.1 257.2,715.7 257.5,719.3 257.7,722.9 256.9,726.4 256.8,730.0 256.8,733.5 257.0,737.1 256.5,740.7 256.5,744.2 257.2,747.8 256.7,751.4 257.8,756.0 258.6,760.6 259.7,764.3 260.4,768.0 260.4,771.8 261.2,775.5 261.2,779.3 262.3,782.9 263.2,788.5 263.3,793.1 264.1,797.7 264.6,801.5 264.1,805.2 264.0,801.0 264.5,796.8 265.3,792.7 265.1,788.5" fill="none" stroke="#000" stroke-width="3.0" stroke-linejoin="round" stroke-linecap="round"/>
<polyline points="275.3,853.4 276.2,857.1 278.1,859.0 279.9,857.1 280.7,853.4 281.6,849.8 281.8,846.0 282.2,842.1 283.6,838.6 285.5,838.6 285.8,842.4 287.3,846.0 288.6,849.6 289.2,853.4 291.0,859.0 292.9,853.4 294.7,847.8 296.6,847.8 298.5,853.4 299.2,857.1 300.3,860.8 302.2,857.1 303.5,853.5 304.0,849.7 305.2,845.1 305.9,840.4 306.5,836.6 307.7,833.0 308.7,831.1" fill="none" stroke="#000" stroke-width="3.0" stroke-linejoin="round" stroke-linecap="round"/>
<polyline points="319.6,705.0 320.4,700.0 320.7,694.9 321.8,691.5 323.0,688.1 325.3,685.8 324.9,682.1 325.4,678.5 325.5,674.8 326.1,671.2 325.8,667.5 326.3,663.8 326.6,660.2 326.1,656.5 326.2,652.8 327.1,649.2 326.9,645.5 326.7,641.8 326.8,638.2 328.0,634.6 327.6,630.9 327.9,627.2 327.7,623.6 327.6,620.0 328.7,616.4 328.5,612.7 328.7,609.1 328.4,605.4 328.4,601.8 328.7,598.2 328.5,594.5 329.2,590.9 329.1,587.3 329.7,583.6 329.4,580.0 329.6,576.4 329.8,572.7 329.9,569.1 331.0,566.8 330.6,570.6 331.3,574.4 330.9,578.2 331.6,582.1 331.2,585.9 331.6,589.7 330.9,593.5 331.7,597.3 331.5,601.1 332.9,603.4 332.4,607.3 332.6,611.3 332.9,615.2 332.3,619.1 333.0,623.0 332.6,627.0 332.9,630.9 332.8,634.4 333.1,637.9 333.6,641.5 333.3,645.0 333.5,648.5 333.4,652.1 332.8,655.6 333.7,659.1 333.3,662.7 333.4,666.2 334.0,669.7 333.9,673.2 334.3,676.8 333.5,680.3 334.3,683.8 334.2,687.4 334.3,690.9 333.8,694.4 333.9,698.0 334.3,701.5 334.5,705.0 334.7,709.6 335.0,714.3 335.5,718.0 334.7,721.7 335.7,725.4 335.5,729.1 335.6,732.8 335.3,736.5 335.4,740.2 335.9,743.9 335.3,747.7 335.9,751.4 335.7,755.1 337.2,758.7 336.9,762.5 337.4,766.2 337.8,769.9 338.1,773.4 338.2,776.9 338.6,780.4 338.4,784.0 338.7,787.4 338.4,791.0 338.6,794.5 338.8,798.0 339.6,801.5 340.0,805.2 339.7,808.9 340.1,812.6 340.5,816.3 340.4,820.4 340.1,824.5 341.3,828.5 340.9,832.6 340.9,836.7 342.4,836.7 342.7,833.0 343.5,829.3 343.4,825.5 344.2,821.9 345.2,818.2" fill="none" stroke="#000" stroke-width="3.0" stroke-linejoin="round" stroke-linecap="round"/>
<polyline points="354.4,827.4 356.3,825.6 358.2,821.9 360.0,816.3 361.5,812.7 361.9,808.9 362.0,805.1 362.8,801.5 364.6,803.3 364.9,806.8 365.3,810.3 365.1,813.8 364.8,817.3 365.7,820.8 365.7,824.3 365.2,827.8 365.3,831.3 365.6,834.8 366.1,831.2 365.7,827.4 366.5,823.7 366.6,820.0 366.5,816.3 366.9,812.6 366.2,808.9 366.7,805.2 366.3,801.4 367.4,797.8 367.6,794.1 367.6,790.3 366.7,786.6 367.2,782.9 367.4,779.2 367.7,775.0 367.9,770.9 367.7,766.7 368.4,762.5 369.3,758.8 371.1,760.6 372.1,766.2 372.1,770.0 373.0,773.6 373.2,777.3 374.0,781.0 373.9,784.8 374.3,788.9 375.3,793.1 375.8,797.2 375.8,801.5 376.7,807.0 377.2,802.4 377.6,797.7 377.6,794.0 378.3,790.3 377.9,786.6 378.3,782.9 378.6,779.2 378.2,775.5 378.6,771.8 379.1,768.1 379.4,764.4 379.5,760.6 379.9,756.0 380.4,751.4 381.3,747.7 381.3,744.0 382.3,745.8" fill="none" stroke="#000" stroke-width="3.0" stroke-linejoin="round" stroke-linecap="round"/>
<polyline points="390.6,768.1 392.5,769.9 393.4,775.5 394.3,779.1 394.3,782.9 394.4,786.7 395.7,790.3 395.2,794.1 396.2,797.7 396.5,801.5 397.0,805.2 397.2,808.9 397.2,812.6 398.0,816.3 397.7,820.0 398.5,823.7 399.2,827.4 399.2,831.1 399.0,834.8 399.0,839.5 399.9,844.1 400.1,847.9 400.8,851.5 401.0,855.3 401.7,859.0 403.6,857.1 404.1,853.3 405.5,849.7 407.3,846.0 409.2,844.1 411.0,846.0 412.9,851.5 413.8,846.0 414.0,842.3 413.5,838.5 413.7,834.8 414.0,831.1 414.9,827.4 414.7,823.7 415.0,820.0 414.7,816.3 414.4,812.6 415.0,808.9 414.8,805.1 415.2,801.4 415.7,797.7 415.4,794.0 416.5,790.4 416.0,786.6 416.4,782.9 416.6,779.2 417.0,775.5 417.4,771.8 417.7,768.1 417.4,764.4 417.5,760.6 417.7,756.9 418.5,753.3 418.1,749.5 418.4,745.8 420.3,742.1 419.7,742.1 421.6,745.8 422.3,749.5 422.2,753.3 423.2,756.9 423.4,760.6 423.8,764.3 424.0,768.1 424.1,771.8 424.3,775.5 424.6,770.8 425.3,766.2 427.1,768.1 427.3,771.8 427.5,775.5 428.1,779.2 427.3,782.9 428.3,786.6 427.9,790.3 428.1,794.0 428.2,797.8 428.6,801.4 429.1,805.1 429.0,808.9 429.8,812.5 429.8,816.3 429.9,820.0 430.4,823.7 430.4,827.4 430.9,831.1 430.8,834.8 431.2,838.6 432.1,842.3 432.7,846.0 434.5,849.7 436.4,851.5 438.3,853.4 440.1,855.3 442.0,859.0 443.8,859.0" fill="none" stroke="#000" stroke-width="3.0" stroke-linejoin="round" stroke-linecap="round"/>
<polyline points="452.2,857.1 454.0,853.4 455.9,859.0 457.7,857.1 459.6,851.5 461.4,846.0 463.3,842.3 463.7,838.4 465.2,834.8 467.0,833.0 468.9,831.1 470.7,834.8 471.8,838.5 472.6,842.3 473.0,846.1 474.4,849.7 476.3,853.4 478.1,847.8 478.5,844.0 480.0,840.4 481.9,836.7" fill="none" stroke="#000" stroke-width="3.0" stroke-linejoin="round" stroke-linecap="round"/>
<polyline points="491.1,758.8 493.0,755.1 493.2,751.4 493.8,747.7 493.3,743.9 493.7,740.2 493.6,736.5 493.9,732.8 494.1,728.2 494.8,723.5 495.0,720.0 495.1,716.5 494.9,713.0 495.2,709.4 495.3,705.9 495.6,702.4 494.9,698.8 495.0,695.3 495.3,691.8 495.4,688.3 496.1,684.8 495.8,681.2 496.0,677.6 496.7,673.9 496.4,670.2 496.5,666.6 497.0,662.9 497.4,659.3 496.9,655.6 498.2,652.0 498.3,648.3 498.1,644.6 500.4,641.2 503.8,646.9 504.4,643.0 505.1,639.2 506.1,635.5 509.5,633.2 509.9,629.5 509.9,625.8 509.7,622.2 509.0,618.5 509.5,614.9 510.1,611.1 509.5,607.2 510.5,603.4 510.6,599.6 511.3,595.8 511.2,592.0 510.8,588.1 512.1,584.4 511.8,580.5 512.3,576.6 512.3,572.7 511.7,568.7 512.8,564.9 512.6,560.9 513.0,557.0 513.0,553.1 514.2,549.4 514.7,545.5 514.8,541.6 516.2,545.3 516.3,549.3 517.6,553.1 517.8,556.8 517.5,560.5 518.1,564.2 518.2,567.9 518.3,571.7 518.9,575.4 518.8,579.1 518.7,582.8 521.0,587.4 520.8,590.9 521.7,594.5 521.8,598.0 521.0,601.6 521.3,605.1 521.6,608.6 522.2,612.1 522.3,615.7 522.1,619.2 521.5,622.8 522.1,626.3 522.2,629.9 521.9,633.5 523.0,637.1 522.9,640.7 522.9,644.3 522.7,647.9 523.3,651.5 525.6,653.8 526.1,657.4 525.3,661.1 525.8,664.7 526.4,668.4 526.1,672.1 526.2,675.7 525.9,679.4 525.7,683.1 526.3,686.7 526.2,690.4 526.6,694.0 526.2,697.7 527.1,701.3 526.7,705.0 526.3,709.2 526.9,713.4 526.4,717.5 526.4,721.7" fill="none" stroke="#000" stroke-width="3.0" stroke-linejoin="round" stroke-linecap="round"/>
<polyline points="535.1,738.4 536.9,736.5 536.8,732.3 537.2,728.2 537.2,724.0 537.8,719.8 538.3,716.1 539.2,712.4 539.7,708.7 540.6,706.9 541.5,710.6 541.8,714.9 542.3,719.2 542.5,723.5 542.4,727.3 542.1,731.0 542.6,734.7 542.4,738.4 542.5,742.1 543.4,747.7 543.4,751.4 542.8,755.1 543.6,758.8 543.2,762.5 543.7,766.2 543.4,769.9 545.3,773.6 545.7,777.6 545.3,781.7 545.6,785.7 546.2,789.7 546.6,793.7 546.2,797.7 545.8,801.5 546.3,805.2 545.9,808.9 546.3,812.6 546.2,816.3 546.5,820.9 547.1,825.6 547.5,830.2 548.0,834.8 547.8,838.6 548.2,842.3 549.0,846.0 549.5,849.7 549.9,853.4 550.8,859.0 552.7,860.8 554.5,857.1 555.5,853.4" fill="none" stroke="#000" stroke-width="3.0" stroke-linejoin="round" stroke-linecap="round"/>
<polyline points="565.7,842.3 567.5,841.3 569.4,838.6 570.3,834.8 570.5,831.1 570.4,827.4 571.2,823.7 570.6,820.0 571.2,816.3 571.2,812.1 572.1,808.0 571.4,803.7 572.2,799.6 573.1,797.7 573.3,802.4 574.0,807.0 574.2,811.4 574.6,815.7 574.9,820.0 575.6,823.7 575.9,827.4 576.6,831.1 575.9,834.9 576.8,838.6 576.8,842.3 577.0,846.0 577.7,849.7 578.7,853.3 578.6,857.1 580.5,860.8 582.4,859.0 584.2,853.4 585.5,849.8 586.1,846.0 586.4,842.2 586.9,838.5 587.9,834.8 588.9,833.0" fill="none" stroke="#000" stroke-width="3.0" stroke-linejoin="round" stroke-linecap="round"/>
<polyline points="599.1,807.9 600.0,808.9 600.2,813.1 600.3,817.2 601.1,821.4 600.9,825.6 601.1,830.2 601.8,834.8 602.8,840.4 604.6,842.3 606.5,844.1 608.3,846.0 610.2,849.7 612.0,847.8 613.9,851.5 615.7,853.4 617.6,849.7 618.6,846.0 619.5,842.3 620.8,838.7 621.3,834.8 623.2,833.0" fill="none" stroke="#000" stroke-width="3.0" stroke-linejoin="round" stroke-linecap="round"/>
<polyline points="632.8,847.8 634.6,851.5 635.6,857.1 636.2,853.4 636.1,849.7 635.8,846.0 636.6,842.3 636.5,838.6 636.1,834.8 636.5,831.1 637.4,834.8 639.3,838.6 640.0,834.6 640.2,830.5 639.9,826.5 640.2,822.5 640.2,818.4 641.1,814.4 642.1,812.6 642.9,816.3 643.9,820.0 644.4,823.7 644.6,827.4 644.9,831.1 644.8,834.8 646.7,834.8 646.4,831.1 647.0,827.4 647.0,823.7 647.2,820.0 647.6,816.3 647.8,812.6 648.5,808.9 649.5,805.2" fill="none" stroke="#000" stroke-width="3.0" stroke-linejoin="round" stroke-linecap="round"/>
<polyline points="659.7,831.1 662.5,829.3 664.3,827.4 666.2,833.0 668.0,838.6 668.9,842.3 669.9,846.0 670.4,849.8 671.7,853.4 673.6,859.0 676.4,857.1 679.2,855.3 681.9,854.3" fill="none" stroke="#000" stroke-width="3.0" stroke-linejoin="round" stroke-linecap="round"/>
<polyline points="691.2,847.8 693.1,842.3 694.9,840.4 696.8,846.0 698.6,840.4 700.5,834.8 700.4,831.1 701.5,827.5 701.4,823.7 702.1,820.0 702.0,816.3 702.2,812.6 702.3,808.9 703.1,805.2 703.3,801.5 705.1,803.3 705.5,808.0 706.1,812.6 706.3,816.3 707.0,820.0 706.8,823.8 707.3,827.5 707.9,831.1 709.1,834.8 709.8,838.6 711.6,842.3 713.5,847.8 714.4,846.0 715.3,842.3" fill="none" stroke="#000" stroke-width="3.0" stroke-linejoin="round" stroke-linecap="round"/>
<polyline points="723.2,795.9 725.0,797.7 725.9,801.4 725.1,805.2 726.0,808.9 726.8,812.6 726.9,816.4 727.8,820.0 728.5,823.7 728.5,827.4 728.8,831.1 730.6,836.7 730.8,833.0 731.5,829.3 731.5,825.6 732.2,821.6 731.8,817.6 732.0,813.6 731.9,809.7 731.9,805.7 732.9,801.7 732.5,797.7 732.1,793.8 733.3,789.8 733.0,785.8 732.5,781.8 733.6,777.9 732.8,773.9 733.4,769.9 734.3,766.2 734.5,770.5 735.4,774.8 735.2,779.2 734.8,782.9 735.8,786.6 735.4,790.3 736.5,794.0 736.2,797.7 736.9,801.5 738.0,805.2 738.5,801.3 739.9,797.7 739.7,794.0 740.7,790.3 741.6,786.7 741.6,782.9 741.7,779.2 742.3,775.5 742.3,771.8 742.0,768.1 741.6,764.3 742.2,760.6 741.9,756.9 742.4,753.2 742.3,749.5 742.6,745.8 742.7,742.1 742.4,738.4 743.1,734.7 742.9,731.0 743.1,727.3 742.7,723.5 743.3,719.8 743.5,716.1 744.1,712.4 743.6,708.7 743.8,712.4 744.7,716.1 744.8,719.8 744.9,723.5 745.2,727.3 744.9,731.0 744.7,734.7 744.8,738.4 745.4,742.1 744.9,745.6 744.9,749.1 744.9,752.6 744.8,756.1 745.9,759.6 745.3,763.1 745.1,766.6 745.0,770.1 745.0,773.6 745.0,777.1 744.6,780.6 745.6,784.1 745.0,787.6 744.5,791.1 745.5,794.7 745.4,798.2 744.5,801.7 744.9,805.2" fill="none" stroke="#000" stroke-width="3.0" stroke-linejoin="round" stroke-linecap="round"/>
<polyline points="753.8,768.1 754.8,764.4 754.7,760.6 755.1,756.8 756.6,753.2 758.4,751.4 759.5,756.0 759.4,760.6 759.4,765.3 760.3,769.9 760.5,774.6 761.2,779.2 761.6,782.9 761.9,786.6 762.0,790.4 762.3,794.1 763.1,797.7 764.1,801.4 764.5,805.1 764.1,808.9 764.9,812.6 764.8,816.4 765.5,820.1 766.4,823.7 766.8,827.4 767.4,831.1 767.9,834.8 768.7,838.5 768.6,842.3 768.9,846.0 770.2,849.6 770.5,853.4 772.3,857.1 774.2,859.0" fill="none" stroke="#000" stroke-width="3.0" stroke-linejoin="round" stroke-linecap="round"/>
<polyline points="98.7,808.9 99.3,805.2 99.7,801.5 99.9,797.7 100.6,794.0 101.0,790.1 101.0,786.1 101.0,782.1 102.1,778.2 101.5,774.1 101.7,770.2 102.4,766.2 103.3,762.5 103.7,766.0 103.6,769.6 103.3,773.1 103.9,776.6 104.1,780.1 103.7,783.7 104.3,787.2 104.1,790.7 104.5,794.2 104.3,797.7 105.2,801.5 105.1,805.2 106.2,808.8 106.4,812.6 106.7,816.3 107.0,820.0 107.1,823.7 107.6,820.0 107.7,816.3 108.1,812.6 108.0,808.9 108.9,805.2 109.2,809.3 110.2,813.3 109.7,817.4 110.7,821.5 110.8,825.6 111.2,829.5 111.1,833.5 110.6,837.5 111.5,841.5 111.6,845.4 111.1,849.4 111.7,853.4 112.6,859.0 113.4,855.0 112.8,850.9 112.6,846.9 113.6,842.9 113.7,838.9 113.5,834.8 113.6,830.9 114.4,826.9 114.2,822.9 114.4,818.9 115.0,815.0 115.4,811.0 115.4,807.0 116.3,801.5 117.2,797.7 118.2,794.0 118.6,790.3 117.6,786.6 118.2,782.9 118.0,779.2 117.7,775.5 118.7,771.8 117.8,768.1 117.8,764.4 118.6,760.6 118.7,756.9 118.7,753.2 118.0,749.5 118.7,745.8 118.2,742.1 120.0,738.4 119.7,734.7 120.5,731.0 120.9,727.3 120.1,723.5 120.1,719.8 120.9,716.1 121.2,712.4 121.1,708.7 121.0,705.0 121.6,701.5 121.1,697.9 121.0,694.3 120.8,690.8 121.3,687.2 122.4,681.9 124.5,684.6 125.0,688.6 124.4,692.8 125.7,696.8 125.8,700.9 125.6,705.0 125.8,708.7 126.1,712.4 125.8,716.1 126.0,719.8 126.1,723.5 125.6,727.3 125.6,731.0 125.5,734.7 125.3,738.4 125.6,742.1 125.6,745.8 127.5,747.7 126.9,751.2 128.0,754.8 127.8,758.4 128.0,762.0 127.7,765.6 127.1,769.2 127.0,772.8 127.5,776.4 127.9,779.9 127.7,783.5 127.4,787.1 127.7,790.7 127.1,794.3 126.9,797.9 127.5,801.5 128.4,805.2 128.5,801.5 128.8,797.8 129.2,794.1 128.9,790.3 128.7,786.6 129.7,782.9 129.3,779.2 131.2,775.5 133.0,777.3 134.9,775.5" fill="none" stroke="#ff0000" stroke-width="2.85" stroke-linejoin="round" stroke-linecap="round"/>
<polyline points="143.2,827.4 144.4,823.8 143.9,819.9 145.1,816.3 146.3,811.7 146.9,807.0 148.8,801.5 150.6,802.4 152.5,805.2 153.0,809.2 153.8,813.3 154.0,817.4 154.4,821.5 154.4,825.6 154.4,829.6 155.3,833.6 155.9,837.6 155.9,841.6 155.5,845.7 156.2,849.7 157.1,853.4 157.5,849.7 158.1,846.0 158.2,842.3 158.2,838.5 159.0,834.8 158.9,831.1 159.7,827.4 159.8,823.6 160.9,820.0 162.7,816.3 163.9,820.9 164.6,825.6 165.3,829.3 166.4,833.0 166.7,828.8 167.3,824.6 168.0,820.5 168.3,816.3 168.2,812.6 168.5,808.9 169.3,805.2 169.1,801.5 169.2,797.7 169.3,794.0 169.7,790.3 169.8,786.6 170.1,782.9 170.4,779.2 171.1,775.5 172.0,771.8 171.7,768.0 173.0,764.4 172.9,760.6 174.8,762.5 174.8,766.7 175.2,770.9 176.6,775.0 176.6,779.2 176.8,782.9 176.4,786.6 177.4,790.3 177.8,794.0 177.5,797.7 178.2,802.4 179.4,807.0 180.3,812.6 181.0,816.9 180.8,821.3 181.3,825.6 182.1,829.2 182.2,833.0" fill="none" stroke="#ff0000" stroke-width="2.85" stroke-linejoin="round" stroke-linecap="round"/>
<polyline points="190.5,808.9 191.5,805.2 191.5,801.5 191.7,797.7 192.4,794.0 194.2,797.7 195.6,802.3 196.1,807.0 196.8,811.7 197.9,816.3 198.9,820.0 198.9,816.3 199.4,812.6 199.6,808.9 199.8,805.2 200.5,801.5 200.1,797.7 200.1,794.0 199.8,790.3 200.6,786.6 200.7,782.9 200.9,779.2 201.7,775.5 203.5,773.6 205.4,775.5 205.7,779.2 206.3,782.9 206.8,778.6 206.9,774.2 207.2,769.9 206.9,766.2 207.6,762.5 207.8,758.8 208.1,755.1 208.2,751.4 209.0,747.1 208.5,742.7 209.1,738.4 210.3,742.1 210.6,745.8 211.2,749.5 210.5,753.2 211.4,756.9 211.3,760.6 211.3,765.3 212.2,769.9 212.0,774.0 212.8,777.9 212.2,782.0 212.8,786.0 213.1,790.0 213.1,794.0 213.2,797.7 212.9,801.5 213.6,805.2 213.8,808.9 214.2,812.6 214.1,816.3 213.8,820.0 214.4,823.7 214.8,827.4 215.2,831.1 215.0,834.8 215.6,838.5 215.0,842.3 215.3,846.0 215.9,849.7 216.8,853.4 218.3,849.8 218.7,846.0 220.5,842.3 222.4,844.1 224.3,838.6 226.1,834.8 228.0,829.3 229.8,827.4" fill="none" stroke="#ff0000" stroke-width="2.85" stroke-linejoin="round" stroke-linecap="round"/>
<polyline points="237.2,762.5 238.2,758.9 238.2,755.1 238.7,750.8 239.1,746.5 239.1,742.1 239.5,738.4 239.8,734.7 240.0,731.0 239.5,727.2 240.0,723.5 240.9,718.9 241.0,714.3 240.8,710.8 240.8,707.2 241.7,703.7 240.7,700.2 241.4,696.7 241.2,693.2 241.9,689.6 241.7,686.1 242.2,682.6 242.3,679.1 242.0,675.6 241.4,672.0 242.2,668.5 241.6,665.0 242.7,661.5 242.7,658.0 242.1,654.4 242.0,650.9 242.7,647.4 242.8,643.9 243.2,640.4 242.8,636.9 242.3,633.3 243.1,629.8 242.9,626.3 242.6,622.4 243.7,618.5 243.7,614.5 243.9,610.6 244.2,606.7 244.0,602.8 244.1,598.8 245.1,595.2 245.2,591.5 245.4,587.9 245.8,584.2 246.4,580.5 246.3,576.7 246.0,572.9 246.3,569.1 247.2,565.3 246.7,561.5 247.3,557.7 247.6,553.8 247.6,550.0 247.5,546.2 247.6,542.5 247.5,538.9 247.6,535.2 247.6,531.6 248.3,527.9 248.4,524.2 248.8,520.6 248.2,516.9 249.0,513.3 248.6,509.6 250.5,505.0 251.2,508.6 252.8,511.9 253.1,515.7 252.3,519.5 252.8,523.3 252.4,527.1 252.7,531.0 253.3,534.8 253.4,538.6 253.1,542.4 253.2,546.2 253.2,549.8 253.7,553.5 252.7,557.1 253.1,560.8 253.2,564.4 252.8,568.0 253.4,571.7 253.4,575.3 252.9,579.0 253.3,582.6 253.2,586.3 253.5,589.9 253.5,593.5 253.1,597.2 252.9,600.8 252.4,604.5 252.7,608.1 253.0,611.7 252.9,615.4 253.1,619.0 252.8,622.7 252.8,626.3 254.4,630.9 253.9,634.4 254.9,637.9 254.6,641.5 254.4,645.0 254.3,648.5 254.6,652.1 254.6,655.6 254.3,659.1 254.4,662.7 255.2,666.2 254.9,669.7 254.4,673.3 255.0,676.8 255.5,680.3 254.9,683.8 255.8,687.4 255.7,690.9 255.3,694.4 255.7,698.0 255.2,701.5 255.5,705.0 255.2,708.7 255.6,712.4 255.0,716.1 255.1,719.8 254.9,723.6 255.2,727.3 255.1,731.0 255.5,734.7 255.0,738.4 254.9,742.1 254.4,745.8 254.6,749.5 255.7,753.2 255.8,756.9 255.6,760.6 255.2,764.4 255.6,768.1 256.1,771.8 255.8,775.5 255.8,779.2 255.9,782.9 255.9,786.6 256.5,790.3 256.4,794.0 256.7,797.7 256.8,801.5 257.2,805.2 257.6,808.9 258.7,812.5 258.6,816.3 258.6,820.0 259.5,823.7 259.8,827.4 259.5,831.1 260.2,834.8 261.3,838.5 261.4,842.3 262.3,846.0" fill="none" stroke="#ff0000" stroke-width="2.85" stroke-linejoin="round" stroke-linecap="round"/>
<polyline points="271.6,853.4 273.4,847.8 275.3,842.3 277.1,836.7 278.1,838.6 279.5,842.1 279.9,846.0 281.8,840.4 282.6,836.7 283.6,833.0 284.5,829.3 285.5,825.6 285.9,820.8 287.3,816.3 288.1,812.6 288.1,808.9 287.9,805.2 288.2,801.5 288.3,797.7 288.0,793.8 288.8,789.8 287.8,785.8 288.0,781.8 287.9,777.9 288.7,773.9 288.3,769.9 288.7,766.2 289.2,762.5 291.0,760.6 292.9,762.5 293.6,766.8 294.2,771.1 294.7,775.5 294.9,779.9 296.3,784.1 296.6,788.5 296.9,792.9 297.6,797.2 298.5,801.5 298.7,797.1 298.9,792.8 299.4,788.5 299.7,784.8 300.1,781.0 300.3,777.3 301.0,773.6 301.2,769.9 303.1,764.4 304.0,762.5" fill="none" stroke="#ff0000" stroke-width="2.85" stroke-linejoin="round" stroke-linecap="round"/>
<polyline points="311.8,786.6 312.3,782.9 312.8,779.2 313.6,775.5 314.1,771.5 313.9,767.4 314.1,763.4 314.7,759.4 314.4,755.4 314.6,751.4 314.8,747.6 315.8,744.0 316.2,740.3 316.4,736.6 316.4,732.8 317.3,736.5 317.6,740.5 317.5,744.6 317.5,748.6 318.2,752.6 317.9,756.6 318.3,760.6 319.2,766.2 319.0,770.6 319.6,774.9 320.1,779.2 320.2,782.9 320.7,786.6 320.6,790.3 321.1,794.0 321.6,797.7 321.1,801.5 321.6,805.2 321.2,808.9 322.0,812.6 322.9,818.2 322.9,814.1 323.5,810.0 322.9,805.9 323.6,801.8 323.8,797.7 324.4,794.1 324.0,790.3 324.7,786.6 324.8,782.9 324.9,779.2 325.7,775.5 325.8,771.8 326.7,768.1 326.0,764.3 326.6,760.6 327.5,755.1 329.4,756.9 329.1,760.7 330.3,764.3 329.9,768.1 329.8,771.8 330.3,775.5 330.2,779.2 330.9,782.9 330.9,786.6 331.3,790.3 331.2,794.0 331.3,797.8 331.4,801.5 331.8,805.2 332.3,808.9 332.2,812.6 331.9,816.3 332.1,820.0 332.1,823.7 331.6,827.4 332.6,831.1 332.2,834.8 332.8,838.6 334.0,842.3 335.9,846.0 337.8,849.7 339.6,851.5" fill="none" stroke="#ff0000" stroke-width="2.85" stroke-linejoin="round" stroke-linecap="round"/>
<polyline points="347.0,859.0 348.9,857.1 350.7,853.4 352.6,851.5 354.4,846.0 356.3,844.1 358.2,842.3 358.9,838.5 360.0,834.8 360.5,831.1 360.9,827.5 360.3,823.7 360.8,820.0 360.9,816.3 361.4,811.7 361.9,807.0 362.8,801.5 363.0,797.7 362.8,794.0 363.5,790.3 364.0,786.6 363.7,782.9 364.4,779.2 364.6,775.5 365.3,771.7 366.5,768.1 368.4,766.2 368.5,770.9 369.3,775.5 369.7,779.8 370.3,784.1 370.2,788.5 370.4,792.8 370.9,797.1 371.1,801.5 371.6,805.2 372.1,808.9 371.8,812.6 372.6,816.3 373.0,820.0 372.9,823.8 373.9,827.4" fill="none" stroke="#ff0000" stroke-width="2.85" stroke-linejoin="round" stroke-linecap="round"/>
<polyline points="384.1,851.5 386.9,849.7 388.8,851.5 390.6,853.4 392.5,857.1 394.3,859.0 396.2,859.9 398.0,859.9 399.9,853.4 400.6,848.7 401.7,844.1 403.0,839.5 403.6,834.8 405.5,834.8 407.3,840.4 409.2,846.0 411.0,847.8 411.9,842.3" fill="none" stroke="#ff0000" stroke-width="2.85" stroke-linejoin="round" stroke-linecap="round"/>
<polyline points="421.6,840.4 423.4,846.0 424.8,849.6 425.3,853.4 427.1,849.7 429.9,851.5 430.6,846.9 431.8,842.3 432.9,838.6 433.6,834.8 434.0,831.1 434.4,827.4 434.0,823.7 434.1,820.0 434.5,816.3 434.8,812.6 435.3,808.9 435.1,805.1 435.9,801.4 436.4,797.7 436.7,801.5 437.3,805.2 437.9,808.9 437.8,812.6 437.2,816.3 437.3,820.0 438.2,823.7 438.4,827.4 438.6,831.1 438.3,834.8 439.1,839.1 438.5,843.5 439.2,847.8 441.0,851.5 442.9,853.4 444.8,857.1 446.6,860.8 449.4,861.7" fill="none" stroke="#ff0000" stroke-width="2.85" stroke-linejoin="round" stroke-linecap="round"/>
<polyline points="457.7,807.0 459.6,808.9 459.4,812.6 460.1,816.3 460.0,820.0 459.8,823.7 460.7,827.4 459.9,831.1 460.0,834.9 460.5,838.6 461.2,842.2 460.9,846.0 461.4,849.7 463.3,851.5 465.2,851.5 467.9,853.4 471.6,855.3 475.4,858.0 478.1,857.1 480.0,853.4 481.2,849.7 481.9,846.0 483.7,840.4 485.6,836.7 486.7,840.4 487.4,844.1 487.6,847.9 489.0,851.5 489.3,855.3" fill="none" stroke="#ff0000" stroke-width="2.85" stroke-linejoin="round" stroke-linecap="round"/>
<polyline points="498.5,821.9 499.0,825.6 499.5,829.3 500.4,827.4 500.3,823.7 500.5,820.0 501.0,816.3 500.8,812.6 500.9,808.9 501.4,805.2 500.6,801.5 500.7,797.7 501.2,794.0 500.8,790.3 501.8,786.6 501.3,782.9 501.2,779.4 501.5,775.9 501.6,772.4 502.1,768.9 502.3,765.4 502.2,761.9 501.7,758.4 502.0,754.9 502.3,751.4 502.7,747.7 502.4,743.9 503.4,740.3 503.2,736.5 505.0,738.4 505.2,742.8 506.6,747.0 506.9,751.4 507.1,756.0 506.9,760.6 507.4,764.3 507.0,768.1 508.0,771.8 507.4,775.5 507.8,779.2 508.8,783.8 508.7,788.5 508.5,792.2 509.1,795.9 509.2,799.6 510.0,803.3 509.7,807.0 510.8,811.3 511.1,815.7 511.5,820.0 511.3,823.8 512.0,827.4 512.5,831.1 514.3,834.8 514.5,838.6 516.1,842.2 516.2,846.0 517.1,849.6 517.1,853.4 518.9,851.5 520.8,853.4 522.7,855.3 524.5,859.0 527.3,860.8 531.0,861.7" fill="none" stroke="#ff0000" stroke-width="2.85" stroke-linejoin="round" stroke-linecap="round"/>
<polyline points="543.4,834.8 544.3,831.1 545.3,825.6 546.2,820.0 547.1,816.3 547.0,812.5 548.0,808.9 549.0,810.7 549.0,814.5 549.8,818.1 549.9,821.8 549.9,825.6 550.2,830.2 550.8,834.8 551.8,831.1 552.4,827.5 552.7,823.7 553.6,820.0 554.3,823.7 554.5,827.4 555.0,831.1 555.5,834.8 556.4,838.6 557.3,844.1 558.2,849.7 560.1,853.4 562.0,855.3" fill="none" stroke="#ff0000" stroke-width="2.85" stroke-linejoin="round" stroke-linecap="round"/>
<polyline points="569.4,810.7 571.2,808.9 571.9,812.6 572.2,816.3 572.3,820.0 572.7,823.7 572.9,827.4 573.2,831.1 573.1,834.8 573.6,838.5 573.8,842.2 574.4,845.9 574.0,849.7 574.9,853.4 576.8,857.1 578.6,859.0 580.5,860.8 582.4,859.0 582.4,855.2 582.9,851.5 582.8,847.8 583.3,844.1 583.0,840.4 584.1,836.7 583.8,833.0 584.0,829.3 584.2,825.6 585.1,821.9 586.1,823.7 586.5,827.8 586.0,831.9 586.3,836.0 586.7,840.0 587.0,844.1 587.3,848.8 587.9,853.4 589.8,857.1 591.6,855.3 593.5,851.5 595.3,849.7" fill="none" stroke="#ff0000" stroke-width="2.85" stroke-linejoin="round" stroke-linecap="round"/>
<polyline points="602.8,853.4 604.6,849.7 606.5,851.5 608.3,853.4 610.2,857.1 612.0,860.8 613.9,859.0 614.5,854.9 614.6,850.8 614.9,846.7 615.2,842.6 615.7,838.6 616.7,834.8 617.1,839.5 617.6,844.1 617.9,848.4 618.2,852.8 618.5,857.1 619.5,853.4 620.4,849.7 621.3,846.0 622.2,840.4 623.2,844.1 623.1,847.9 623.2,851.6 624.2,855.2 624.1,859.0 625.0,853.4 624.7,849.6 625.2,846.0 625.2,842.2 625.9,838.6 626.9,834.8 627.0,839.5 627.8,844.1" fill="none" stroke="#ff0000" stroke-width="2.85" stroke-linejoin="round" stroke-linecap="round"/>
<polyline points="635.6,805.2 636.6,801.5 637.4,797.7 637.6,793.1 638.3,788.5 638.0,784.9 638.9,781.3 639.0,777.8 638.9,774.2 638.9,770.6 639.1,767.1 638.8,763.5 638.8,759.9 639.1,756.4 639.5,752.8 639.7,749.2 639.7,745.7 639.3,742.1 639.9,738.4 639.1,734.7 639.5,731.0 640.6,727.3 640.2,723.5 640.7,718.9 641.1,714.3 641.2,718.3 641.6,722.2 641.1,726.2 641.6,730.2 641.2,734.2 642.4,738.1 642.1,742.1 641.7,745.8 643.0,749.5 643.0,753.2 642.9,756.9 643.0,760.6 643.6,756.0 643.9,751.4 643.9,747.6 644.8,744.0 646.7,745.8 646.6,749.8 646.2,753.8 646.8,757.9 646.4,761.9 646.6,765.9 646.7,769.9 646.8,773.9 647.4,777.9 647.2,782.0 646.8,786.0 647.3,790.0 647.6,794.0 648.3,798.3 648.3,802.7 648.5,807.0 649.0,811.7 649.5,816.3 650.1,820.9 650.4,825.6 651.3,831.1 653.2,827.4" fill="none" stroke="#ff0000" stroke-width="2.85" stroke-linejoin="round" stroke-linecap="round"/>
<polyline points="662.5,827.4 662.9,823.7 663.2,820.0 663.4,816.3 663.2,812.5 663.8,808.8 664.7,805.2 664.5,801.4 665.2,797.7 665.4,794.0 666.8,790.4 667.1,786.6 667.8,782.9 669.0,779.2 670.8,773.6 672.7,769.9 674.5,769.9 676.4,773.6 676.1,777.4 676.9,781.1 677.3,784.8 678.1,789.1 677.8,793.4 678.2,797.7 678.7,801.4 678.3,805.2 678.7,808.9 679.2,812.6 679.2,816.9 680.3,821.2 680.1,825.6 681.9,831.1 683.8,834.8" fill="none" stroke="#ff0000" stroke-width="2.85" stroke-linejoin="round" stroke-linecap="round"/>
<polyline points="694.0,844.1 695.9,847.8 697.7,851.5 699.6,855.3 701.4,856.2 703.3,849.7 702.9,845.9 704.1,842.3 703.5,838.5 704.2,834.8 704.1,831.1 704.1,827.4 704.5,823.7 705.1,820.0 705.6,816.3 706.1,812.6 706.4,816.4 707.9,820.0 708.4,823.7 708.8,827.4 708.8,831.1 709.7,827.5 709.4,823.7 710.4,820.0 710.7,816.3 711.1,812.6 711.8,808.9 711.6,805.2 713.5,805.2 714.3,808.8 714.0,812.6 714.4,816.3 714.7,820.0 714.4,823.7 715.3,827.4 714.9,831.1 715.3,834.8 715.7,838.6 715.3,842.3 715.3,846.0" fill="none" stroke="#ff0000" stroke-width="2.85" stroke-linejoin="round" stroke-linecap="round"/>
<polyline points="724.1,827.4 725.0,823.8 724.5,820.0 725.0,816.3 726.1,812.6 726.0,808.9 726.8,805.2 726.7,801.4 727.8,797.7 729.7,795.9 731.5,797.7 732.5,801.4 733.1,805.1 733.4,808.9 733.8,812.6 733.2,816.3 733.5,820.0 733.3,823.7 733.8,827.4 734.0,831.1 734.3,834.8 734.6,838.5 734.4,842.3 734.9,846.0 735.6,849.7 735.2,853.4 736.2,859.0 736.6,854.3 737.1,849.7 737.2,846.0 737.6,842.3 737.3,838.5 738.0,834.8 737.7,831.1 739.1,827.5 738.6,823.7 739.0,820.0 739.4,816.3 739.8,812.5 740.8,808.9 742.7,805.2 742.9,808.9 742.8,812.6 743.6,816.3 744.2,820.0 744.0,823.7 744.1,827.4 744.0,831.2 744.5,834.8 744.7,839.0 745.3,843.2 745.6,847.3 745.4,851.5" fill="none" stroke="#ff0000" stroke-width="2.85" stroke-linejoin="round" stroke-linecap="round"/>
<polyline points="753.8,844.1 754.7,849.7 755.6,855.3 757.5,859.0 759.4,861.7 762.1,860.8 764.9,859.0 767.7,857.1 769.6,855.3 771.4,851.5 773.3,847.8" fill="none" stroke="#ff0000" stroke-width="2.85" stroke-linejoin="round" stroke-linecap="round"/>
<path d="M98,393.6H101V401.3H98ZM103,393.6H108V401.3H103ZM109,393.6H112V401.3H109ZM114,393.6H118V401.3H114ZM120,393.6H125V401.3H120ZM126,393.6H129V401.3H126ZM135,393.6H136V401.3H135ZM144,393.6H145V401.3H144ZM154,393.6H157V401.3H154ZM159,393.6H163V401.3H159ZM165,393.6H170V401.3H165ZM171,393.6H175V401.3H171ZM177,393.6H180V401.3H177ZM181,393.6H184V401.3H181ZM194,393.6H196V401.3H194ZM200,393.6H202V401.3H200ZM208,393.6H210V401.3H208ZM211,393.6H216V401.3H211ZM217,393.6H220V401.3H217ZM221,393.6H224V401.3H221ZM225,393.6H230V401.3H225ZM232,393.6H234V401.3H232ZM242,393.6H246V401.3H242ZM247,393.6H252V401.3H247ZM253,393.6H256V401.3H253ZM257,393.6H259V401.3H257ZM260,393.6H263V401.3H260ZM264,393.6H265V401.3H264ZM275,393.6H279V401.3H275ZM281,393.6H284V401.3H281ZM285,393.6H290V401.3H285ZM291,393.6H296V401.3H291ZM297,393.6H302V401.3H297ZM304,393.6H308V401.3H304ZM317,393.6H320V401.3H317ZM321,393.6H323V401.3H321ZM324,393.6H329V401.3H324ZM331,393.6H334V401.3H331ZM336,393.6H339V401.3H336ZM341,393.6H344V401.3H341ZM353,393.6H355V401.3H353ZM357,393.6H360V401.3H357ZM363,393.6H367V401.3H363ZM372,393.6H375V401.3H372ZM376,393.6H378V401.3H376ZM380,393.6H383V401.3H380ZM388,393.6H390V401.3H388ZM401,393.6H404V401.3H401ZM413,393.6H415V401.3H413ZM422,393.6H426V401.3H422ZM427,393.6H429V401.3H427ZM436,393.6H441V401.3H436ZM451,393.6H453V401.3H451ZM457,393.6H459V401.3H457ZM476,393.6H481V401.3H476ZM490,393.6H494V401.3H490ZM503,393.6H505V401.3H503ZM506,393.6H508V401.3H506ZM519,393.6H521V401.3H519ZM523,393.6H525V401.3H523ZM534,393.6H537V401.3H534ZM538,393.6H541V401.3H538ZM544,393.6H546V401.3H544ZM550,393.6H552V401.3H550ZM562,393.6H565V401.3H562ZM570,393.6H573V401.3H570ZM577,393.6H581V401.3H577ZM582,393.6H587V401.3H582ZM598,393.6H601V401.3H598ZM607,393.6H612V401.3H607ZM617,393.6H620V401.3H617ZM631,393.6H634V401.3H631ZM635,393.6H638V401.3H635ZM639,393.6H643V401.3H639ZM644,393.6H648V401.3H644ZM657,393.6H660V401.3H657ZM669,393.6H671V401.3H669ZM672,393.6H675V401.3H672ZM677,393.6H679V401.3H677ZM680,393.6H681V401.3H680ZM687,393.6H690V401.3H687ZM691,393.6H694V401.3H691ZM695,393.6H697V401.3H695ZM699,393.6H702V401.3H699ZM709,393.6H712V401.3H709ZM720,393.6H722V401.3H720ZM728,393.6H733V401.3H728ZM734,393.6H736V401.3H734ZM738,393.6H741V401.3H738ZM743,393.6H744V401.3H743ZM752,393.6H754V401.3H752ZM758,393.6H760V401.3H758ZM766,393.6H768V401.3H766ZM771,393.6H774V401.3H771Z" fill="#000"/>
<path d="M101,867.6H106V875.4H101ZM107,867.6H110V875.4H107ZM111,867.6H113V875.4H111ZM114,867.6H119V875.4H114ZM121,867.6H124V875.4H121ZM125,867.6H130V875.4H125ZM137,867.6H138V875.4H137ZM146,867.6H147V875.4H146ZM156,867.6H160V875.4H156ZM162,867.6H164V875.4H162ZM165,867.6H170V875.4H165ZM171,867.6H174V875.4H171ZM176,867.6H179V875.4H176ZM180,867.6H183V875.4H180ZM184,867.6H187V875.4H184ZM196,867.6H199V875.4H196ZM202,867.6H206V875.4H202ZM211,867.6H214V875.4H211ZM215,867.6H217V875.4H215ZM219,867.6H222V875.4H219ZM223,867.6H228V875.4H223ZM229,867.6H232V875.4H229ZM233,867.6H235V875.4H233ZM244,867.6H247V875.4H244ZM249,867.6H252V875.4H249ZM253,867.6H256V875.4H253ZM258,867.6H261V875.4H258ZM262,867.6H265V875.4H262ZM277,867.6H281V875.4H277ZM282,867.6H286V875.4H282ZM288,867.6H292V875.4H288ZM293,867.6H297V875.4H293ZM298,867.6H301V875.4H298ZM302,867.6H306V875.4H302ZM308,867.6H311V875.4H308ZM319,867.6H324V875.4H319ZM326,867.6H329V875.4H326ZM330,867.6H334V875.4H330ZM336,867.6H341V875.4H336ZM342,867.6H347V875.4H342ZM355,867.6H358V875.4H355ZM359,867.6H363V875.4H359ZM365,867.6H367V875.4H365ZM368,867.6H369V875.4H368ZM374,867.6H379V875.4H374ZM383,867.6H386V875.4H383ZM391,867.6H392V875.4H391ZM403,867.6H406V875.4H403ZM415,867.6H417V875.4H415ZM418,867.6H419V875.4H418ZM424,867.6H427V875.4H424ZM429,867.6H431V875.4H429ZM438,867.6H443V875.4H438ZM444,867.6H445V875.4H444ZM453,867.6H455V875.4H453ZM459,867.6H461V875.4H459ZM478,867.6H483V875.4H478ZM493,867.6H495V875.4H493ZM506,867.6H509V875.4H506ZM510,867.6H511V875.4H510ZM521,867.6H523V875.4H521ZM524,867.6H527V875.4H524ZM536,867.6H539V875.4H536ZM540,867.6H544V875.4H540ZM546,867.6H548V875.4H546ZM553,867.6H555V875.4H553ZM564,867.6H567V875.4H564ZM572,867.6H575V875.4H572ZM580,867.6H585V875.4H580ZM586,867.6H588V875.4H586ZM589,867.6H591V875.4H589ZM600,867.6H602V875.4H600ZM603,867.6H604V875.4H603ZM609,867.6H611V875.4H609ZM612,867.6H614V875.4H612ZM619,867.6H621V875.4H619ZM633,867.6H638V875.4H633ZM639,867.6H642V875.4H639ZM643,867.6H646V875.4H643ZM647,867.6H650V875.4H647ZM659,867.6H662V875.4H659ZM671,867.6H674V875.4H671ZM675,867.6H678V875.4H675ZM679,867.6H682V875.4H679ZM690,867.6H692V875.4H690ZM693,867.6H698V875.4H693ZM702,867.6H704V875.4H702ZM711,867.6H714V875.4H711ZM722,867.6H724V875.4H722ZM730,867.6H734V875.4H730ZM736,867.6H739V875.4H736ZM740,867.6H742V875.4H740ZM744,867.6H746V875.4H744ZM754,867.6H756V875.4H754ZM761,867.6H763V875.4H761ZM768,867.6H770V875.4H768ZM773,867.6H777V875.4H773Z" fill="#000"/>
</svg>
</body></html>
